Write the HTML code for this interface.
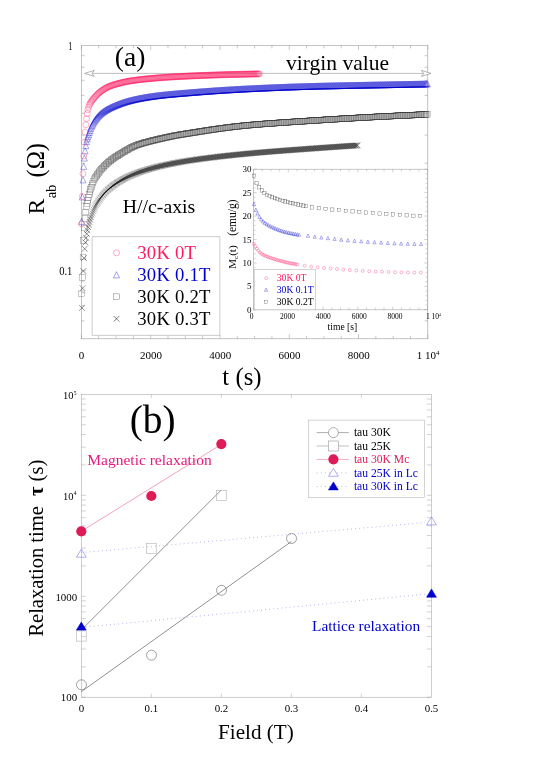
<!DOCTYPE html><html><head><meta charset="utf-8"><title>figure</title><style>html,body{margin:0;padding:0;background:#fff}body{width:545px;height:772px;position:relative;overflow:hidden;font-family:"Liberation Serif",serif}</style></head><body><svg width="545" height="772" viewBox="0 0 545 772" style="position:absolute;left:0;top:0;will-change:transform;font-family:'Liberation Serif',serif">
<rect width="545" height="772" fill="#fff"/>
<defs><circle id="mc" r="3.0" fill="none" stroke="#FF1A60" stroke-width="0.32"/><path id="mt" d="M0,-3.1L3,3.1L-3,3.1Z" fill="none" stroke="#0000CD" stroke-width="0.32"/><rect id="ms" x="-2.9" y="-2.9" width="5.8" height="5.8" fill="none" stroke="#333" stroke-width="0.21"/><path id="mx" d="M-2.85,-2.85L2.85,2.85M-2.85,2.85L2.85,-2.85" fill="none" stroke="#000" stroke-width="0.34"/><circle id="mcb" r="3.0" fill="none" stroke="#FF1A60" stroke-width="0.34"/><path id="mtb" d="M0,-3.1L3,3.1L-3,3.1Z" fill="none" stroke="#0000CD" stroke-width="0.34"/><rect id="msb" x="-2.9" y="-2.9" width="5.8" height="5.8" fill="none" stroke="#333" stroke-width="0.26"/><path id="mxb" d="M-2.85,-2.85L2.85,2.85M-2.85,2.85L2.85,-2.85" fill="none" stroke="#000" stroke-width="0.42"/><circle id="mcl" r="3.0" fill="none" stroke="#FF1A60" stroke-width="0.37"/><path id="mtl" d="M0,-3.1L3,3.1L-3,3.1Z" fill="none" stroke="#0000CD" stroke-width="0.37"/><rect id="msl" x="-2.9" y="-2.9" width="5.8" height="5.8" fill="none" stroke="#333" stroke-width="0.33"/><path id="mxl" d="M-2.85,-2.85L2.85,2.85M-2.85,2.85L2.85,-2.85" fill="none" stroke="#000" stroke-width="0.5"/><circle id="ic" r="1.5" fill="none" stroke="#FF1A60" stroke-width="0.32"/><path id="it" d="M0,-1.9L1.6,1.4L-1.6,1.4Z" fill="none" stroke="#0000CD" stroke-width="0.32"/><rect id="is" x="-1.65" y="-1.65" width="3.3" height="3.3" fill="none" stroke="#333" stroke-width="0.3"/></defs>
<rect x="81.4" y="45.4" width="346.4" height="293.4" fill="none" stroke="#9c9c9c" stroke-width="0.6"/>
<path d="M81.4,338.8L81.4,334.3M81.4,45.4L81.4,49.9M98.72,338.8L98.72,335.8M98.72,45.4L98.72,48.4M116.04,338.8L116.04,335.8M116.04,45.4L116.04,48.4M133.36,338.8L133.36,335.8M133.36,45.4L133.36,48.4M150.68,338.8L150.68,334.3M150.68,45.4L150.68,49.9M168,338.8L168,335.8M168,45.4L168,48.4M185.32,338.8L185.32,335.8M185.32,45.4L185.32,48.4M202.64,338.8L202.64,335.8M202.64,45.4L202.64,48.4M219.96,338.8L219.96,334.3M219.96,45.4L219.96,49.9M237.28,338.8L237.28,335.8M237.28,45.4L237.28,48.4M254.6,338.8L254.6,335.8M254.6,45.4L254.6,48.4M271.92,338.8L271.92,335.8M271.92,45.4L271.92,48.4M289.24,338.8L289.24,334.3M289.24,45.4L289.24,49.9M306.56,338.8L306.56,335.8M306.56,45.4L306.56,48.4M323.88,338.8L323.88,335.8M323.88,45.4L323.88,48.4M341.2,338.8L341.2,335.8M341.2,45.4L341.2,48.4M358.52,338.8L358.52,334.3M358.52,45.4L358.52,49.9M375.84,338.8L375.84,335.8M375.84,45.4L375.84,48.4M393.16,338.8L393.16,335.8M393.16,45.4L393.16,48.4M410.48,338.8L410.48,335.8M410.48,45.4L410.48,48.4M427.8,338.8L427.8,334.3M427.8,45.4L427.8,49.9M81.4,55.71L84.6,55.71M427.8,55.71L424.6,55.71M81.4,67.24L84.6,67.24M427.8,67.24L424.6,67.24M81.4,80.31L84.6,80.31M427.8,80.31L424.6,80.31M81.4,95.4L84.6,95.4M427.8,95.4L424.6,95.4M81.4,113.25L84.6,113.25M427.8,113.25L424.6,113.25M81.4,135.1L84.6,135.1M427.8,135.1L424.6,135.1M81.4,163.26L84.6,163.26M427.8,163.26L424.6,163.26M81.4,202.95L84.6,202.95M427.8,202.95L424.6,202.95M81.4,270.8L85.9,270.8M427.8,270.8L423.3,270.8M81.4,281.11L84.6,281.11M427.8,281.11L424.6,281.11M81.4,292.64L84.6,292.64M427.8,292.64L424.6,292.64M81.4,305.71L84.6,305.71M427.8,305.71L424.6,305.71M81.4,320.8L84.6,320.8M427.8,320.8L424.6,320.8" fill="none" stroke="#a4a4a4" stroke-width="0.6"/>
<path d="M89.4,73.4L427.8,73.4" stroke="#8a8a8a" stroke-width="0.55" fill="none"/>
<path d="M84.7,73.4L94.3,70.4L92,73.4L94.3,76.4Z" fill="#fff" stroke="#777" stroke-width="0.55"/>
<path d="M431,73.4L421.4,70.4L423.7,73.4L421.4,76.4Z" fill="#fff" stroke="#777" stroke-width="0.55"/>
<clipPath id="ca"><rect x="77.4" y="45.4" width="354.4" height="293.4"/></clipPath>
<g clip-path="url(#ca)">
<use href="#mxb" x="81.9" y="307.9"/><use href="#mxb" x="82.6" y="288.2"/><use href="#mxb" x="83.3" y="271"/><use href="#mxb" x="84" y="258"/><use href="#mxb" x="84.7" y="248.8"/><use href="#mxb" x="85.4" y="242.5"/><use href="#mxb" x="86.1" y="237.81"/><use href="#mxb" x="86.8" y="233.86"/><use href="#mxb" x="87.5" y="230.38"/><use href="#mxb" x="88.2" y="227.27"/><use href="#mxb" x="88.9" y="224.46"/><use href="#mxb" x="89.6" y="221.88"/><use href="#mxb" x="90.3" y="219.5"/><use href="#mxb" x="91" y="217.27"/><use href="#mx" x="91.7" y="215.17"/><use href="#mx" x="92.4" y="213.21"/><use href="#mx" x="93.1" y="211.37"/><use href="#mx" x="93.8" y="209.66"/><use href="#mx" x="94.5" y="208.07"/><use href="#mx" x="95.2" y="206.6"/><use href="#mx" x="95.9" y="205.23"/><use href="#mx" x="96.6" y="203.95"/><use href="#mx" x="97.3" y="202.74"/><use href="#mx" x="98" y="201.6"/><use href="#mx" x="98.7" y="200.51"/><use href="#mx" x="99.4" y="199.48"/><use href="#mx" x="100.1" y="198.5"/><use href="#mx" x="100.8" y="197.56"/><use href="#mx" x="101.5" y="196.66"/><use href="#mx" x="102.2" y="195.8"/><use href="#mx" x="102.9" y="194.97"/><use href="#mx" x="103.6" y="194.16"/><use href="#mx" x="104.3" y="193.4"/><use href="#mx" x="105" y="192.65"/><use href="#mx" x="105.7" y="191.94"/><use href="#mx" x="106.4" y="191.25"/><use href="#mx" x="107.1" y="190.58"/><use href="#mx" x="107.8" y="189.93"/><use href="#mx" x="108.5" y="189.31"/><use href="#mx" x="109.2" y="188.7"/><use href="#mx" x="109.9" y="188.11"/><use href="#mx" x="110.6" y="187.53"/><use href="#mx" x="111.3" y="186.97"/><use href="#mx" x="112" y="186.43"/><use href="#mx" x="112.7" y="185.9"/><use href="#mx" x="113.4" y="185.38"/><use href="#mx" x="114.1" y="184.87"/><use href="#mx" x="114.8" y="184.38"/><use href="#mx" x="115.5" y="183.89"/><use href="#mx" x="116.2" y="183.42"/><use href="#mx" x="116.9" y="182.96"/><use href="#mx" x="117.6" y="182.5"/><use href="#mx" x="118.3" y="182.06"/><use href="#mx" x="119" y="181.62"/><use href="#mx" x="119.7" y="181.2"/><use href="#mx" x="120.4" y="180.78"/><use href="#mx" x="121.1" y="180.37"/><use href="#mx" x="121.8" y="179.97"/><use href="#mx" x="122.5" y="179.58"/><use href="#mx" x="123.2" y="179.2"/><use href="#mx" x="123.9" y="178.83"/><use href="#mx" x="124.6" y="178.46"/><use href="#mx" x="125.3" y="178.1"/><use href="#mx" x="126" y="177.75"/><use href="#mx" x="126.7" y="177.4"/><use href="#mx" x="127.4" y="177.06"/><use href="#mx" x="128.1" y="176.73"/><use href="#mx" x="128.8" y="176.41"/><use href="#mx" x="129.5" y="176.09"/><use href="#mx" x="130.2" y="175.78"/><use href="#mx" x="130.9" y="175.47"/><use href="#mx" x="131.6" y="175.17"/><use href="#mx" x="132.3" y="174.87"/><use href="#mx" x="133" y="174.59"/><use href="#mx" x="133.7" y="174.3"/><use href="#mx" x="134.4" y="174.02"/><use href="#mx" x="135.1" y="173.75"/><use href="#mx" x="135.8" y="173.48"/><use href="#mx" x="136.5" y="173.21"/><use href="#mx" x="137.2" y="172.95"/><use href="#mx" x="137.9" y="172.69"/><use href="#mx" x="138.6" y="172.44"/><use href="#mx" x="139.3" y="172.19"/><use href="#mx" x="140" y="171.95"/><use href="#mx" x="140.7" y="171.7"/><use href="#mx" x="141.4" y="171.47"/><use href="#mx" x="142.1" y="171.23"/><use href="#mx" x="142.8" y="171"/><use href="#mx" x="143.5" y="170.77"/><use href="#mx" x="144.2" y="170.55"/><use href="#mx" x="144.9" y="170.33"/><use href="#mx" x="145.6" y="170.11"/><use href="#mx" x="146.3" y="169.9"/><use href="#mx" x="147" y="169.68"/><use href="#mx" x="147.7" y="169.47"/><use href="#mx" x="148.4" y="169.27"/><use href="#mx" x="149.1" y="169.07"/><use href="#mx" x="149.8" y="168.86"/><use href="#mx" x="150.5" y="168.67"/><use href="#mx" x="151.2" y="168.47"/><use href="#mx" x="151.9" y="168.28"/><use href="#mx" x="152.6" y="168.09"/><use href="#mx" x="153.3" y="167.9"/><use href="#mx" x="154" y="167.71"/><use href="#mx" x="154.7" y="167.53"/><use href="#mx" x="155.4" y="167.35"/><use href="#mx" x="156.1" y="167.17"/><use href="#mx" x="156.8" y="167"/><use href="#mx" x="157.5" y="166.82"/><use href="#mx" x="158.2" y="166.65"/><use href="#mx" x="158.9" y="166.48"/><use href="#mx" x="159.6" y="166.31"/><use href="#mx" x="160.3" y="166.14"/><use href="#mx" x="161" y="165.98"/><use href="#mx" x="161.7" y="165.82"/><use href="#mx" x="162.4" y="165.66"/><use href="#mx" x="163.1" y="165.5"/><use href="#mx" x="163.8" y="165.34"/><use href="#mx" x="164.5" y="165.19"/><use href="#mx" x="165.2" y="165.04"/><use href="#mx" x="165.9" y="164.88"/><use href="#mx" x="166.6" y="164.74"/><use href="#mx" x="167.3" y="164.59"/><use href="#mx" x="168" y="164.44"/><use href="#mx" x="168.7" y="164.3"/><use href="#mx" x="169.4" y="164.15"/><use href="#mx" x="170.1" y="164.01"/><use href="#mx" x="170.8" y="163.87"/><use href="#mx" x="171.5" y="163.73"/><use href="#mx" x="172.2" y="163.6"/><use href="#mx" x="172.9" y="163.46"/><use href="#mx" x="173.6" y="163.32"/><use href="#mx" x="174.3" y="163.19"/><use href="#mx" x="175" y="163.06"/><use href="#mx" x="175.7" y="162.93"/><use href="#mx" x="176.4" y="162.8"/><use href="#mx" x="177.1" y="162.67"/><use href="#mx" x="177.8" y="162.54"/><use href="#mx" x="178.5" y="162.42"/><use href="#mx" x="179.2" y="162.29"/><use href="#mx" x="179.9" y="162.17"/><use href="#mx" x="180.6" y="162.05"/><use href="#mx" x="181.3" y="161.93"/><use href="#mx" x="182" y="161.81"/><use href="#mx" x="182.7" y="161.69"/><use href="#mx" x="183.4" y="161.57"/><use href="#mx" x="184.1" y="161.45"/><use href="#mx" x="184.8" y="161.33"/><use href="#mx" x="185.5" y="161.22"/><use href="#mx" x="186.2" y="161.1"/><use href="#mx" x="186.9" y="160.99"/><use href="#mx" x="187.6" y="160.88"/><use href="#mx" x="188.3" y="160.77"/><use href="#mx" x="189" y="160.66"/><use href="#mx" x="189.7" y="160.55"/><use href="#mx" x="190.4" y="160.44"/><use href="#mx" x="191.1" y="160.33"/><use href="#mx" x="191.8" y="160.22"/><use href="#mx" x="192.5" y="160.12"/><use href="#mx" x="193.2" y="160.01"/><use href="#mx" x="193.9" y="159.91"/><use href="#mx" x="194.6" y="159.8"/><use href="#mx" x="195.3" y="159.7"/><use href="#mx" x="196" y="159.6"/><use href="#mx" x="196.7" y="159.5"/><use href="#mx" x="197.4" y="159.4"/><use href="#mx" x="198.1" y="159.3"/><use href="#mx" x="198.8" y="159.2"/><use href="#mx" x="199.5" y="159.1"/><use href="#mx" x="200.2" y="159.01"/><use href="#mx" x="200.9" y="158.91"/><use href="#mx" x="201.6" y="158.81"/><use href="#mx" x="202.3" y="158.72"/><use href="#mx" x="203" y="158.62"/><use href="#mx" x="203.7" y="158.53"/><use href="#mx" x="204.4" y="158.44"/><use href="#mx" x="205.1" y="158.35"/><use href="#mx" x="205.8" y="158.25"/><use href="#mx" x="206.5" y="158.16"/><use href="#mx" x="207.2" y="158.07"/><use href="#mx" x="207.9" y="157.98"/><use href="#mx" x="208.6" y="157.89"/><use href="#mx" x="209.3" y="157.81"/><use href="#mx" x="210" y="157.72"/><use href="#mx" x="210.7" y="157.63"/><use href="#mx" x="211.4" y="157.54"/><use href="#mx" x="212.1" y="157.46"/><use href="#mx" x="212.8" y="157.37"/><use href="#mx" x="213.5" y="157.29"/><use href="#mx" x="214.2" y="157.2"/><use href="#mx" x="214.9" y="157.12"/><use href="#mx" x="215.6" y="157.04"/><use href="#mx" x="216.3" y="156.95"/><use href="#mx" x="217" y="156.87"/><use href="#mx" x="217.7" y="156.79"/><use href="#mx" x="218.4" y="156.71"/><use href="#mx" x="219.1" y="156.63"/><use href="#mx" x="219.8" y="156.54"/><use href="#mx" x="220.5" y="156.46"/><use href="#mx" x="221.2" y="156.38"/><use href="#mx" x="221.9" y="156.31"/><use href="#mx" x="222.6" y="156.23"/><use href="#mx" x="223.3" y="156.15"/><use href="#mx" x="224" y="156.07"/><use href="#mx" x="224.7" y="155.99"/><use href="#mx" x="225.4" y="155.92"/><use href="#mx" x="226.1" y="155.84"/><use href="#mx" x="226.8" y="155.76"/><use href="#mx" x="227.5" y="155.69"/><use href="#mx" x="228.2" y="155.61"/><use href="#mx" x="228.9" y="155.54"/><use href="#mx" x="229.6" y="155.46"/><use href="#mx" x="230.3" y="155.39"/><use href="#mx" x="231" y="155.31"/><use href="#mx" x="231.7" y="155.24"/><use href="#mx" x="232.4" y="155.17"/><use href="#mx" x="233.1" y="155.09"/><use href="#mx" x="233.8" y="155.02"/><use href="#mx" x="234.5" y="154.95"/><use href="#mx" x="235.2" y="154.88"/><use href="#mx" x="235.9" y="154.8"/><use href="#mx" x="236.6" y="154.73"/><use href="#mx" x="237.3" y="154.66"/><use href="#mx" x="238" y="154.59"/><use href="#mx" x="238.7" y="154.52"/><use href="#mx" x="239.4" y="154.45"/><use href="#mx" x="240.1" y="154.38"/><use href="#mx" x="240.8" y="154.31"/><use href="#mx" x="241.5" y="154.24"/><use href="#mx" x="242.2" y="154.17"/><use href="#mx" x="242.9" y="154.1"/><use href="#mx" x="243.6" y="154.04"/><use href="#mx" x="244.3" y="153.97"/><use href="#mx" x="245" y="153.9"/><use href="#mx" x="245.7" y="153.83"/><use href="#mx" x="246.4" y="153.77"/><use href="#mx" x="247.1" y="153.7"/><use href="#mx" x="247.8" y="153.63"/><use href="#mx" x="248.5" y="153.57"/><use href="#mx" x="249.2" y="153.5"/><use href="#mx" x="249.9" y="153.44"/><use href="#mx" x="250.6" y="153.37"/><use href="#mx" x="251.3" y="153.31"/><use href="#mx" x="252" y="153.24"/><use href="#mx" x="252.7" y="153.18"/><use href="#mx" x="253.4" y="153.12"/><use href="#mx" x="254.1" y="153.06"/><use href="#mx" x="254.8" y="152.99"/><use href="#mx" x="255.5" y="152.93"/><use href="#mx" x="256.2" y="152.87"/><use href="#mx" x="256.9" y="152.81"/><use href="#mx" x="257.6" y="152.75"/><use href="#mx" x="258.3" y="152.69"/><use href="#mx" x="259" y="152.63"/><use href="#mx" x="259.7" y="152.56"/><use href="#mx" x="260.4" y="152.5"/><use href="#mx" x="261.1" y="152.45"/><use href="#mx" x="261.8" y="152.39"/><use href="#mx" x="262.5" y="152.33"/><use href="#mx" x="263.2" y="152.27"/><use href="#mx" x="263.9" y="152.21"/><use href="#mx" x="264.6" y="152.15"/><use href="#mx" x="265.3" y="152.09"/><use href="#mx" x="266" y="152.04"/><use href="#mx" x="266.7" y="151.98"/><use href="#mx" x="267.4" y="151.92"/><use href="#mx" x="268.1" y="151.86"/><use href="#mx" x="268.8" y="151.81"/><use href="#mx" x="269.5" y="151.75"/><use href="#mx" x="270.2" y="151.69"/><use href="#mx" x="270.9" y="151.64"/><use href="#mx" x="271.6" y="151.58"/><use href="#mx" x="272.3" y="151.52"/><use href="#mx" x="273" y="151.47"/><use href="#mx" x="273.7" y="151.41"/><use href="#mx" x="274.4" y="151.36"/><use href="#mx" x="275.1" y="151.3"/><use href="#mx" x="275.8" y="151.25"/><use href="#mx" x="276.5" y="151.19"/><use href="#mx" x="277.2" y="151.14"/><use href="#mx" x="277.9" y="151.08"/><use href="#mx" x="278.6" y="151.03"/><use href="#mx" x="279.3" y="150.97"/><use href="#mx" x="280" y="150.92"/><use href="#mx" x="280.7" y="150.87"/><use href="#mx" x="281.4" y="150.81"/><use href="#mx" x="282.1" y="150.76"/><use href="#mx" x="282.8" y="150.71"/><use href="#mx" x="283.5" y="150.65"/><use href="#mx" x="284.2" y="150.6"/><use href="#mx" x="284.9" y="150.55"/><use href="#mx" x="285.6" y="150.49"/><use href="#mx" x="286.3" y="150.44"/><use href="#mx" x="287" y="150.39"/><use href="#mx" x="287.7" y="150.33"/><use href="#mx" x="288.4" y="150.28"/><use href="#mx" x="289.1" y="150.23"/><use href="#mx" x="289.8" y="150.18"/><use href="#mx" x="290.5" y="150.13"/><use href="#mx" x="291.2" y="150.07"/><use href="#mx" x="291.9" y="150.02"/><use href="#mx" x="292.6" y="149.97"/><use href="#mx" x="293.3" y="149.92"/><use href="#mx" x="294" y="149.87"/><use href="#mx" x="294.7" y="149.81"/><use href="#mx" x="295.4" y="149.76"/><use href="#mx" x="296.1" y="149.71"/><use href="#mx" x="296.8" y="149.66"/><use href="#mx" x="297.5" y="149.61"/><use href="#mx" x="298.2" y="149.56"/><use href="#mx" x="298.9" y="149.51"/><use href="#mx" x="299.6" y="149.45"/><use href="#mx" x="300.3" y="149.4"/><use href="#mx" x="301" y="149.35"/><use href="#mx" x="301.7" y="149.3"/><use href="#mx" x="302.4" y="149.25"/><use href="#mx" x="303.1" y="149.2"/><use href="#mx" x="303.8" y="149.15"/><use href="#mx" x="304.5" y="149.1"/><use href="#mx" x="305.2" y="149.05"/><use href="#mx" x="305.9" y="149"/><use href="#mx" x="306.6" y="148.95"/><use href="#mx" x="307.3" y="148.89"/><use href="#mx" x="308" y="148.84"/><use href="#mx" x="308.7" y="148.79"/><use href="#mx" x="309.4" y="148.74"/><use href="#mx" x="310.1" y="148.69"/><use href="#mx" x="310.8" y="148.64"/><use href="#mx" x="311.5" y="148.59"/><use href="#mx" x="312.2" y="148.54"/><use href="#mx" x="312.9" y="148.49"/><use href="#mx" x="313.6" y="148.44"/><use href="#mx" x="314.3" y="148.39"/><use href="#mx" x="315" y="148.34"/><use href="#mx" x="315.7" y="148.29"/><use href="#mx" x="316.4" y="148.24"/><use href="#mx" x="317.1" y="148.19"/><use href="#mx" x="317.8" y="148.14"/><use href="#mx" x="318.5" y="148.09"/><use href="#mx" x="319.2" y="148.04"/><use href="#mx" x="319.9" y="147.99"/><use href="#mx" x="320.6" y="147.94"/><use href="#mx" x="321.3" y="147.89"/><use href="#mx" x="322" y="147.84"/><use href="#mx" x="322.7" y="147.79"/><use href="#mx" x="323.4" y="147.75"/><use href="#mx" x="324.1" y="147.7"/><use href="#mx" x="324.8" y="147.65"/><use href="#mx" x="325.5" y="147.6"/><use href="#mx" x="326.2" y="147.55"/><use href="#mx" x="326.9" y="147.5"/><use href="#mx" x="327.6" y="147.45"/><use href="#mx" x="328.3" y="147.4"/><use href="#mx" x="329" y="147.35"/><use href="#mx" x="329.7" y="147.3"/><use href="#mx" x="330.4" y="147.26"/><use href="#mx" x="331.1" y="147.21"/><use href="#mx" x="331.8" y="147.16"/><use href="#mx" x="332.5" y="147.11"/><use href="#mx" x="333.2" y="147.06"/><use href="#mx" x="333.9" y="147.01"/><use href="#mx" x="334.6" y="146.97"/><use href="#mx" x="335.3" y="146.92"/><use href="#mx" x="336" y="146.87"/><use href="#mx" x="336.7" y="146.82"/><use href="#mx" x="337.4" y="146.77"/><use href="#mx" x="338.1" y="146.73"/><use href="#mx" x="338.8" y="146.68"/><use href="#mx" x="339.5" y="146.63"/><use href="#mx" x="340.2" y="146.58"/><use href="#mx" x="340.9" y="146.54"/><use href="#mx" x="341.6" y="146.49"/><use href="#mx" x="342.3" y="146.44"/><use href="#mx" x="343" y="146.39"/><use href="#mx" x="343.7" y="146.35"/><use href="#mx" x="344.4" y="146.3"/><use href="#mx" x="345.1" y="146.25"/><use href="#mx" x="345.8" y="146.2"/><use href="#mx" x="346.5" y="146.16"/><use href="#mx" x="347.2" y="146.11"/><use href="#mx" x="347.9" y="146.06"/><use href="#mx" x="348.6" y="146.02"/><use href="#mx" x="349.3" y="145.97"/><use href="#mx" x="350" y="145.92"/><use href="#mx" x="350.7" y="145.88"/><use href="#mx" x="351.4" y="145.83"/><use href="#mx" x="352.1" y="145.79"/><use href="#mx" x="352.8" y="145.74"/><use href="#mx" x="353.5" y="145.69"/><use href="#mx" x="354.2" y="145.65"/><use href="#mx" x="354.9" y="145.6"/><use href="#mx" x="355.6" y="145.56"/><use href="#mx" x="356.3" y="145.51"/><use href="#mx" x="357" y="145.47"/><use href="#mx" x="357.7" y="145.42"/>
<use href="#msb" x="81.6" y="293.9"/><use href="#msb" x="82.3" y="277.3"/><use href="#msb" x="83" y="257"/><use href="#msb" x="83.7" y="240.5"/><use href="#msb" x="84.4" y="228"/><use href="#msb" x="85.1" y="218.5"/><use href="#msb" x="85.8" y="212"/><use href="#msb" x="86.5" y="206.5"/><use href="#msb" x="87.2" y="203.43"/><use href="#msb" x="87.9" y="200.64"/><use href="#msb" x="88.6" y="197.57"/><use href="#msb" x="89.3" y="194.58"/><use href="#msb" x="90" y="191.86"/><use href="#msb" x="90.7" y="189.4"/><use href="#msb" x="91.4" y="187.08"/><use href="#ms" x="92.1" y="184.94"/><use href="#ms" x="92.8" y="183.01"/><use href="#ms" x="93.5" y="181.32"/><use href="#ms" x="94.2" y="179.85"/><use href="#ms" x="94.9" y="178.52"/><use href="#ms" x="95.6" y="177.31"/><use href="#ms" x="96.3" y="176.2"/><use href="#ms" x="97" y="175.16"/><use href="#ms" x="97.7" y="174.18"/><use href="#ms" x="98.4" y="173.23"/><use href="#ms" x="99.1" y="172.33"/><use href="#ms" x="99.8" y="171.44"/><use href="#ms" x="100.5" y="170.58"/><use href="#ms" x="101.2" y="169.74"/><use href="#ms" x="101.9" y="168.93"/><use href="#ms" x="102.6" y="168.14"/><use href="#ms" x="103.3" y="167.39"/><use href="#ms" x="104" y="166.66"/><use href="#ms" x="104.7" y="165.95"/><use href="#ms" x="105.4" y="165.26"/><use href="#ms" x="106.1" y="164.59"/><use href="#ms" x="106.8" y="163.95"/><use href="#ms" x="107.5" y="163.32"/><use href="#ms" x="108.2" y="162.7"/><use href="#ms" x="108.9" y="162.1"/><use href="#ms" x="109.6" y="161.52"/><use href="#ms" x="110.3" y="160.95"/><use href="#ms" x="111" y="160.4"/><use href="#ms" x="111.7" y="159.86"/><use href="#ms" x="112.4" y="159.34"/><use href="#ms" x="113.1" y="158.83"/><use href="#ms" x="113.8" y="158.33"/><use href="#ms" x="114.5" y="157.85"/><use href="#ms" x="115.2" y="157.37"/><use href="#ms" x="115.9" y="156.9"/><use href="#ms" x="116.6" y="156.45"/><use href="#ms" x="117.3" y="156"/><use href="#ms" x="118" y="155.55"/><use href="#ms" x="118.7" y="155.11"/><use href="#ms" x="119.4" y="154.68"/><use href="#ms" x="120.1" y="154.25"/><use href="#ms" x="120.8" y="153.82"/><use href="#ms" x="121.5" y="153.4"/><use href="#ms" x="122.2" y="152.98"/><use href="#ms" x="122.9" y="152.55"/><use href="#ms" x="123.6" y="152.12"/><use href="#ms" x="124.3" y="151.7"/><use href="#ms" x="125" y="151.27"/><use href="#ms" x="125.7" y="150.85"/><use href="#ms" x="126.4" y="150.43"/><use href="#ms" x="127.1" y="150.02"/><use href="#ms" x="127.8" y="149.62"/><use href="#ms" x="128.5" y="149.22"/><use href="#ms" x="129.2" y="148.83"/><use href="#ms" x="129.9" y="148.45"/><use href="#ms" x="130.6" y="148.08"/><use href="#ms" x="131.3" y="147.72"/><use href="#ms" x="132" y="147.37"/><use href="#ms" x="132.7" y="147.03"/><use href="#ms" x="133.4" y="146.7"/><use href="#ms" x="134.1" y="146.39"/><use href="#ms" x="134.8" y="146.09"/><use href="#ms" x="135.5" y="145.8"/><use href="#ms" x="136.2" y="145.52"/><use href="#ms" x="136.9" y="145.26"/><use href="#ms" x="137.6" y="145"/><use href="#ms" x="138.3" y="144.75"/><use href="#ms" x="139" y="144.51"/><use href="#ms" x="139.7" y="144.27"/><use href="#ms" x="140.4" y="144.04"/><use href="#ms" x="141.1" y="143.82"/><use href="#ms" x="141.8" y="143.6"/><use href="#ms" x="142.5" y="143.39"/><use href="#ms" x="143.2" y="143.18"/><use href="#ms" x="143.9" y="142.98"/><use href="#ms" x="144.6" y="142.78"/><use href="#ms" x="145.3" y="142.58"/><use href="#ms" x="146" y="142.39"/><use href="#ms" x="146.7" y="142.2"/><use href="#ms" x="147.4" y="142.02"/><use href="#ms" x="148.1" y="141.83"/><use href="#ms" x="148.8" y="141.65"/><use href="#ms" x="149.5" y="141.47"/><use href="#ms" x="150.2" y="141.3"/><use href="#ms" x="150.9" y="141.12"/><use href="#ms" x="151.6" y="140.95"/><use href="#ms" x="152.3" y="140.77"/><use href="#ms" x="153" y="140.6"/><use href="#ms" x="153.7" y="140.43"/><use href="#ms" x="154.4" y="140.26"/><use href="#ms" x="155.1" y="140.09"/><use href="#ms" x="155.8" y="139.93"/><use href="#ms" x="156.5" y="139.76"/><use href="#ms" x="157.2" y="139.59"/><use href="#ms" x="157.9" y="139.42"/><use href="#ms" x="158.6" y="139.26"/><use href="#ms" x="159.3" y="139.09"/><use href="#ms" x="160" y="138.93"/><use href="#ms" x="160.7" y="138.76"/><use href="#ms" x="161.4" y="138.6"/><use href="#ms" x="162.1" y="138.44"/><use href="#ms" x="162.8" y="138.28"/><use href="#ms" x="163.5" y="138.12"/><use href="#ms" x="164.2" y="137.96"/><use href="#ms" x="164.9" y="137.81"/><use href="#ms" x="165.6" y="137.65"/><use href="#ms" x="166.3" y="137.5"/><use href="#ms" x="167" y="137.35"/><use href="#ms" x="167.7" y="137.2"/><use href="#ms" x="168.4" y="137.05"/><use href="#ms" x="169.1" y="136.9"/><use href="#ms" x="169.8" y="136.75"/><use href="#ms" x="170.5" y="136.61"/><use href="#ms" x="171.2" y="136.47"/><use href="#ms" x="171.9" y="136.32"/><use href="#ms" x="172.6" y="136.18"/><use href="#ms" x="173.3" y="136.05"/><use href="#ms" x="174" y="135.91"/><use href="#ms" x="174.7" y="135.77"/><use href="#ms" x="175.4" y="135.64"/><use href="#ms" x="176.1" y="135.51"/><use href="#ms" x="176.8" y="135.38"/><use href="#ms" x="177.5" y="135.25"/><use href="#ms" x="178.2" y="135.12"/><use href="#ms" x="178.9" y="134.99"/><use href="#ms" x="179.6" y="134.87"/><use href="#ms" x="180.3" y="134.75"/><use href="#ms" x="181" y="134.63"/><use href="#ms" x="181.7" y="134.51"/><use href="#ms" x="182.4" y="134.4"/><use href="#ms" x="183.1" y="134.28"/><use href="#ms" x="183.8" y="134.17"/><use href="#ms" x="184.5" y="134.06"/><use href="#ms" x="185.2" y="133.95"/><use href="#ms" x="185.9" y="133.84"/><use href="#ms" x="186.6" y="133.73"/><use href="#ms" x="187.3" y="133.62"/><use href="#ms" x="188" y="133.51"/><use href="#ms" x="188.7" y="133.41"/><use href="#ms" x="189.4" y="133.3"/><use href="#ms" x="190.1" y="133.18"/><use href="#ms" x="190.8" y="133.07"/><use href="#ms" x="191.5" y="132.96"/><use href="#ms" x="192.2" y="132.85"/><use href="#ms" x="192.9" y="132.74"/><use href="#ms" x="193.6" y="132.62"/><use href="#ms" x="194.3" y="132.51"/><use href="#ms" x="195" y="132.4"/><use href="#ms" x="195.7" y="132.29"/><use href="#ms" x="196.4" y="132.17"/><use href="#ms" x="197.1" y="132.06"/><use href="#ms" x="197.8" y="131.95"/><use href="#ms" x="198.5" y="131.84"/><use href="#ms" x="199.2" y="131.73"/><use href="#ms" x="199.9" y="131.61"/><use href="#ms" x="200.6" y="131.5"/><use href="#ms" x="201.3" y="131.39"/><use href="#ms" x="202" y="131.28"/><use href="#ms" x="202.7" y="131.17"/><use href="#ms" x="203.4" y="131.06"/><use href="#ms" x="204.1" y="130.95"/><use href="#ms" x="204.8" y="130.84"/><use href="#ms" x="205.5" y="130.73"/><use href="#ms" x="206.2" y="130.62"/><use href="#ms" x="206.9" y="130.51"/><use href="#ms" x="207.6" y="130.41"/><use href="#ms" x="208.3" y="130.3"/><use href="#ms" x="209" y="130.19"/><use href="#ms" x="209.7" y="130.08"/><use href="#ms" x="210.4" y="129.98"/><use href="#ms" x="211.1" y="129.87"/><use href="#ms" x="211.8" y="129.77"/><use href="#ms" x="212.5" y="129.66"/><use href="#ms" x="213.2" y="129.56"/><use href="#ms" x="213.9" y="129.46"/><use href="#ms" x="214.6" y="129.35"/><use href="#ms" x="215.3" y="129.25"/><use href="#ms" x="216" y="129.15"/><use href="#ms" x="216.7" y="129.05"/><use href="#ms" x="217.4" y="128.95"/><use href="#ms" x="218.1" y="128.85"/><use href="#ms" x="218.8" y="128.75"/><use href="#ms" x="219.5" y="128.65"/><use href="#ms" x="220.2" y="128.56"/><use href="#ms" x="220.9" y="128.46"/><use href="#ms" x="221.6" y="128.36"/><use href="#ms" x="222.3" y="128.27"/><use href="#ms" x="223" y="128.17"/><use href="#ms" x="223.7" y="128.08"/><use href="#ms" x="224.4" y="127.99"/><use href="#ms" x="225.1" y="127.89"/><use href="#ms" x="225.8" y="127.8"/><use href="#ms" x="226.5" y="127.71"/><use href="#ms" x="227.2" y="127.62"/><use href="#ms" x="227.9" y="127.53"/><use href="#ms" x="228.6" y="127.44"/><use href="#ms" x="229.3" y="127.36"/><use href="#ms" x="230" y="127.27"/><use href="#ms" x="230.7" y="127.18"/><use href="#ms" x="231.4" y="127.1"/><use href="#ms" x="232.1" y="127.01"/><use href="#ms" x="232.8" y="126.93"/><use href="#ms" x="233.5" y="126.85"/><use href="#ms" x="234.2" y="126.76"/><use href="#ms" x="234.9" y="126.68"/><use href="#ms" x="235.6" y="126.6"/><use href="#ms" x="236.3" y="126.52"/><use href="#ms" x="237" y="126.44"/><use href="#ms" x="237.7" y="126.36"/><use href="#ms" x="238.4" y="126.29"/><use href="#ms" x="239.1" y="126.21"/><use href="#ms" x="239.8" y="126.14"/><use href="#ms" x="240.5" y="126.06"/><use href="#ms" x="241.2" y="125.99"/><use href="#ms" x="241.9" y="125.91"/><use href="#ms" x="242.6" y="125.84"/><use href="#ms" x="243.3" y="125.77"/><use href="#ms" x="244" y="125.7"/><use href="#ms" x="244.7" y="125.63"/><use href="#ms" x="245.4" y="125.56"/><use href="#ms" x="246.1" y="125.49"/><use href="#ms" x="246.8" y="125.43"/><use href="#ms" x="247.5" y="125.36"/><use href="#ms" x="248.2" y="125.29"/><use href="#ms" x="248.9" y="125.23"/><use href="#ms" x="249.6" y="125.16"/><use href="#ms" x="250.3" y="125.1"/><use href="#ms" x="251" y="125.03"/><use href="#ms" x="251.7" y="124.97"/><use href="#ms" x="252.4" y="124.91"/><use href="#ms" x="253.1" y="124.85"/><use href="#ms" x="253.8" y="124.79"/><use href="#ms" x="254.5" y="124.73"/><use href="#ms" x="255.2" y="124.67"/><use href="#ms" x="255.9" y="124.61"/><use href="#ms" x="256.6" y="124.55"/><use href="#ms" x="257.3" y="124.49"/><use href="#ms" x="258" y="124.43"/><use href="#ms" x="258.7" y="124.37"/><use href="#ms" x="259.4" y="124.32"/><use href="#ms" x="260.1" y="124.26"/><use href="#ms" x="260.8" y="124.2"/><use href="#ms" x="261.5" y="124.15"/><use href="#ms" x="262.2" y="124.09"/><use href="#ms" x="262.9" y="124.04"/><use href="#ms" x="263.6" y="123.98"/><use href="#ms" x="264.3" y="123.93"/><use href="#ms" x="265" y="123.87"/><use href="#ms" x="265.7" y="123.82"/><use href="#ms" x="266.4" y="123.77"/><use href="#ms" x="267.1" y="123.71"/><use href="#ms" x="267.8" y="123.66"/><use href="#ms" x="268.5" y="123.61"/><use href="#ms" x="269.2" y="123.56"/><use href="#ms" x="269.9" y="123.5"/><use href="#ms" x="270.6" y="123.45"/><use href="#ms" x="271.3" y="123.4"/><use href="#ms" x="272" y="123.35"/><use href="#ms" x="272.7" y="123.3"/><use href="#ms" x="273.4" y="123.25"/><use href="#ms" x="274.1" y="123.2"/><use href="#ms" x="274.8" y="123.15"/><use href="#ms" x="275.5" y="123.1"/><use href="#ms" x="276.2" y="123.05"/><use href="#ms" x="276.9" y="123"/><use href="#ms" x="277.6" y="122.95"/><use href="#ms" x="278.3" y="122.9"/><use href="#ms" x="279" y="122.85"/><use href="#ms" x="279.7" y="122.81"/><use href="#ms" x="280.4" y="122.76"/><use href="#ms" x="281.1" y="122.71"/><use href="#ms" x="281.8" y="122.66"/><use href="#ms" x="282.5" y="122.61"/><use href="#ms" x="283.2" y="122.57"/><use href="#ms" x="283.9" y="122.52"/><use href="#ms" x="284.6" y="122.47"/><use href="#ms" x="285.3" y="122.42"/><use href="#ms" x="286" y="122.38"/><use href="#ms" x="286.7" y="122.33"/><use href="#ms" x="287.4" y="122.28"/><use href="#ms" x="288.1" y="122.24"/><use href="#ms" x="288.8" y="122.19"/><use href="#ms" x="289.5" y="122.14"/><use href="#ms" x="290.2" y="122.1"/><use href="#ms" x="290.9" y="122.05"/><use href="#ms" x="291.6" y="122"/><use href="#ms" x="292.3" y="121.96"/><use href="#ms" x="293" y="121.91"/><use href="#ms" x="293.7" y="121.86"/><use href="#ms" x="294.4" y="121.82"/><use href="#ms" x="295.1" y="121.77"/><use href="#ms" x="295.8" y="121.73"/><use href="#ms" x="296.5" y="121.68"/><use href="#ms" x="297.2" y="121.63"/><use href="#ms" x="297.9" y="121.59"/><use href="#ms" x="298.6" y="121.54"/><use href="#ms" x="299.3" y="121.5"/><use href="#ms" x="300" y="121.45"/><use href="#ms" x="300.7" y="121.41"/><use href="#ms" x="301.4" y="121.36"/><use href="#ms" x="302.1" y="121.31"/><use href="#ms" x="302.8" y="121.27"/><use href="#ms" x="303.5" y="121.22"/><use href="#ms" x="304.2" y="121.18"/><use href="#ms" x="304.9" y="121.13"/><use href="#ms" x="305.6" y="121.09"/><use href="#ms" x="306.3" y="121.04"/><use href="#ms" x="307" y="121"/><use href="#ms" x="307.7" y="120.95"/><use href="#ms" x="308.4" y="120.9"/><use href="#ms" x="309.1" y="120.86"/><use href="#ms" x="309.8" y="120.81"/><use href="#ms" x="310.5" y="120.77"/><use href="#ms" x="311.2" y="120.72"/><use href="#ms" x="311.9" y="120.68"/><use href="#ms" x="312.6" y="120.63"/><use href="#ms" x="313.3" y="120.59"/><use href="#ms" x="314" y="120.54"/><use href="#ms" x="314.7" y="120.49"/><use href="#ms" x="315.4" y="120.45"/><use href="#ms" x="316.1" y="120.4"/><use href="#ms" x="316.8" y="120.36"/><use href="#ms" x="317.5" y="120.31"/><use href="#ms" x="318.2" y="120.27"/><use href="#ms" x="318.9" y="120.22"/><use href="#ms" x="319.6" y="120.18"/><use href="#ms" x="320.3" y="120.13"/><use href="#ms" x="321" y="120.09"/><use href="#ms" x="321.7" y="120.05"/><use href="#ms" x="322.4" y="120"/><use href="#ms" x="323.1" y="119.96"/><use href="#ms" x="323.8" y="119.91"/><use href="#ms" x="324.5" y="119.87"/><use href="#ms" x="325.2" y="119.82"/><use href="#ms" x="325.9" y="119.78"/><use href="#ms" x="326.6" y="119.73"/><use href="#ms" x="327.3" y="119.69"/><use href="#ms" x="328" y="119.65"/><use href="#ms" x="328.7" y="119.6"/><use href="#ms" x="329.4" y="119.56"/><use href="#ms" x="330.1" y="119.52"/><use href="#ms" x="330.8" y="119.47"/><use href="#ms" x="331.5" y="119.43"/><use href="#ms" x="332.2" y="119.39"/><use href="#ms" x="332.9" y="119.34"/><use href="#ms" x="333.6" y="119.3"/><use href="#ms" x="334.3" y="119.26"/><use href="#ms" x="335" y="119.21"/><use href="#ms" x="335.7" y="119.17"/><use href="#ms" x="336.4" y="119.13"/><use href="#ms" x="337.1" y="119.08"/><use href="#ms" x="337.8" y="119.04"/><use href="#ms" x="338.5" y="119"/><use href="#ms" x="339.2" y="118.96"/><use href="#ms" x="339.9" y="118.91"/><use href="#ms" x="340.6" y="118.87"/><use href="#ms" x="341.3" y="118.83"/><use href="#ms" x="342" y="118.79"/><use href="#ms" x="342.7" y="118.75"/><use href="#ms" x="343.4" y="118.7"/><use href="#ms" x="344.1" y="118.66"/><use href="#ms" x="344.8" y="118.62"/><use href="#ms" x="345.5" y="118.58"/><use href="#ms" x="346.2" y="118.54"/><use href="#ms" x="346.9" y="118.5"/><use href="#ms" x="347.6" y="118.46"/><use href="#ms" x="348.3" y="118.41"/><use href="#ms" x="349" y="118.37"/><use href="#ms" x="349.7" y="118.33"/><use href="#ms" x="350.4" y="118.29"/><use href="#ms" x="351.1" y="118.25"/><use href="#ms" x="351.8" y="118.21"/><use href="#ms" x="352.5" y="118.17"/><use href="#ms" x="353.2" y="118.13"/><use href="#ms" x="353.9" y="118.09"/><use href="#ms" x="354.6" y="118.05"/><use href="#ms" x="355.3" y="118.01"/><use href="#ms" x="356" y="117.97"/><use href="#ms" x="356.7" y="117.93"/><use href="#ms" x="357.4" y="117.89"/><use href="#ms" x="358.1" y="117.85"/><use href="#ms" x="358.8" y="117.81"/><use href="#ms" x="359.5" y="117.77"/><use href="#ms" x="360.2" y="117.73"/><use href="#ms" x="360.9" y="117.7"/><use href="#ms" x="361.6" y="117.66"/><use href="#ms" x="362.3" y="117.62"/><use href="#ms" x="363" y="117.58"/><use href="#ms" x="363.7" y="117.54"/><use href="#ms" x="364.4" y="117.5"/><use href="#ms" x="365.1" y="117.46"/><use href="#ms" x="365.8" y="117.43"/><use href="#ms" x="366.5" y="117.39"/><use href="#ms" x="367.2" y="117.35"/><use href="#ms" x="367.9" y="117.31"/><use href="#ms" x="368.6" y="117.27"/><use href="#ms" x="369.3" y="117.24"/><use href="#ms" x="370" y="117.2"/><use href="#ms" x="370.7" y="117.16"/><use href="#ms" x="371.4" y="117.13"/><use href="#ms" x="372.1" y="117.09"/><use href="#ms" x="372.8" y="117.05"/><use href="#ms" x="373.5" y="117.01"/><use href="#ms" x="374.2" y="116.98"/><use href="#ms" x="374.9" y="116.94"/><use href="#ms" x="375.6" y="116.9"/><use href="#ms" x="376.3" y="116.87"/><use href="#ms" x="377" y="116.83"/><use href="#ms" x="377.7" y="116.79"/><use href="#ms" x="378.4" y="116.76"/><use href="#ms" x="379.1" y="116.72"/><use href="#ms" x="379.8" y="116.69"/><use href="#ms" x="380.5" y="116.65"/><use href="#ms" x="381.2" y="116.61"/><use href="#ms" x="381.9" y="116.58"/><use href="#ms" x="382.6" y="116.54"/><use href="#ms" x="383.3" y="116.51"/><use href="#ms" x="384" y="116.47"/><use href="#ms" x="384.7" y="116.44"/><use href="#ms" x="385.4" y="116.4"/><use href="#ms" x="386.1" y="116.37"/><use href="#ms" x="386.8" y="116.33"/><use href="#ms" x="387.5" y="116.3"/><use href="#ms" x="388.2" y="116.26"/><use href="#ms" x="388.9" y="116.22"/><use href="#ms" x="389.6" y="116.19"/><use href="#ms" x="390.3" y="116.16"/><use href="#ms" x="391" y="116.12"/><use href="#ms" x="391.7" y="116.09"/><use href="#ms" x="392.4" y="116.05"/><use href="#ms" x="393.1" y="116.02"/><use href="#ms" x="393.8" y="115.98"/><use href="#ms" x="394.5" y="115.95"/><use href="#ms" x="395.2" y="115.91"/><use href="#ms" x="395.9" y="115.88"/><use href="#ms" x="396.6" y="115.85"/><use href="#ms" x="397.3" y="115.81"/><use href="#ms" x="398" y="115.78"/><use href="#ms" x="398.7" y="115.74"/><use href="#ms" x="399.4" y="115.71"/><use href="#ms" x="400.1" y="115.68"/><use href="#ms" x="400.8" y="115.64"/><use href="#ms" x="401.5" y="115.61"/><use href="#ms" x="402.2" y="115.58"/><use href="#ms" x="402.9" y="115.54"/><use href="#ms" x="403.6" y="115.51"/><use href="#ms" x="404.3" y="115.48"/><use href="#ms" x="405" y="115.44"/><use href="#ms" x="405.7" y="115.41"/><use href="#ms" x="406.4" y="115.38"/><use href="#ms" x="407.1" y="115.34"/><use href="#ms" x="407.8" y="115.31"/><use href="#ms" x="408.5" y="115.28"/><use href="#ms" x="409.2" y="115.24"/><use href="#ms" x="409.9" y="115.21"/><use href="#ms" x="410.6" y="115.18"/><use href="#ms" x="411.3" y="115.15"/><use href="#ms" x="412" y="115.11"/><use href="#ms" x="412.7" y="115.08"/><use href="#ms" x="413.4" y="115.05"/><use href="#ms" x="414.1" y="115.02"/><use href="#ms" x="414.8" y="114.99"/><use href="#ms" x="415.5" y="114.95"/><use href="#ms" x="416.2" y="114.92"/><use href="#ms" x="416.9" y="114.89"/><use href="#ms" x="417.6" y="114.86"/><use href="#ms" x="418.3" y="114.83"/><use href="#ms" x="419" y="114.79"/><use href="#ms" x="419.7" y="114.76"/><use href="#ms" x="420.4" y="114.73"/><use href="#ms" x="421.1" y="114.7"/><use href="#ms" x="421.8" y="114.67"/><use href="#ms" x="422.5" y="114.64"/><use href="#ms" x="423.2" y="114.6"/><use href="#ms" x="423.9" y="114.57"/><use href="#ms" x="424.6" y="114.54"/><use href="#ms" x="425.3" y="114.51"/><use href="#ms" x="426" y="114.48"/><use href="#ms" x="426.7" y="114.45"/><use href="#ms" x="427.4" y="114.42"/>
<use href="#mtb" x="81.6" y="221.3"/><use href="#mtb" x="82.3" y="196.9"/><use href="#mtb" x="83" y="179.8"/><use href="#mtb" x="83.7" y="166.3"/><use href="#mtb" x="84.4" y="158"/><use href="#mtb" x="85.1" y="150.8"/><use href="#mtb" x="85.8" y="145.6"/><use href="#mtb" x="86.5" y="141.5"/><use href="#mtb" x="87.2" y="138.78"/><use href="#mt" x="87.9" y="136.64"/><use href="#mtb" x="88.6" y="134.6"/><use href="#mtb" x="89.3" y="132.46"/><use href="#mt" x="90" y="130.37"/><use href="#mt" x="90.7" y="128.5"/><use href="#mt" x="91.4" y="126.87"/><use href="#mt" x="92.1" y="125.39"/><use href="#mt" x="92.8" y="124.03"/><use href="#mt" x="93.5" y="122.74"/><use href="#mt" x="94.2" y="121.55"/><use href="#mt" x="94.9" y="120.44"/><use href="#mt" x="95.6" y="119.41"/><use href="#mt" x="96.3" y="118.47"/><use href="#mt" x="97" y="117.59"/><use href="#mt" x="97.7" y="116.76"/><use href="#mt" x="98.4" y="115.98"/><use href="#mt" x="99.1" y="115.25"/><use href="#mt" x="99.8" y="114.56"/><use href="#mt" x="100.5" y="113.92"/><use href="#mt" x="101.2" y="113.32"/><use href="#mt" x="101.9" y="112.75"/><use href="#mt" x="102.6" y="112.22"/><use href="#mt" x="103.3" y="111.71"/><use href="#mt" x="104" y="111.23"/><use href="#mt" x="104.7" y="110.77"/><use href="#mt" x="105.4" y="110.33"/><use href="#mt" x="106.1" y="109.91"/><use href="#mt" x="106.8" y="109.5"/><use href="#mt" x="107.5" y="109.11"/><use href="#mt" x="108.2" y="108.73"/><use href="#mt" x="108.9" y="108.36"/><use href="#mt" x="109.6" y="108"/><use href="#mt" x="110.3" y="107.65"/><use href="#mt" x="111" y="107.32"/><use href="#mt" x="111.7" y="107"/><use href="#mt" x="112.4" y="106.69"/><use href="#mt" x="113.1" y="106.38"/><use href="#mt" x="113.8" y="106.08"/><use href="#mt" x="114.5" y="105.79"/><use href="#mt" x="115.2" y="105.5"/><use href="#mt" x="115.9" y="105.21"/><use href="#mt" x="116.6" y="104.93"/><use href="#mt" x="117.3" y="104.65"/><use href="#mt" x="118" y="104.37"/><use href="#mt" x="118.7" y="104.1"/><use href="#mt" x="119.4" y="103.84"/><use href="#mt" x="120.1" y="103.58"/><use href="#mt" x="120.8" y="103.32"/><use href="#mt" x="121.5" y="103.07"/><use href="#mt" x="122.2" y="102.83"/><use href="#mt" x="122.9" y="102.59"/><use href="#mt" x="123.6" y="102.36"/><use href="#mt" x="124.3" y="102.13"/><use href="#mt" x="125" y="101.91"/><use href="#mt" x="125.7" y="101.69"/><use href="#mt" x="126.4" y="101.48"/><use href="#mt" x="127.1" y="101.28"/><use href="#mt" x="127.8" y="101.08"/><use href="#mt" x="128.5" y="100.89"/><use href="#mt" x="129.2" y="100.71"/><use href="#mt" x="129.9" y="100.53"/><use href="#mt" x="130.6" y="100.35"/><use href="#mt" x="131.3" y="100.18"/><use href="#mt" x="132" y="100.01"/><use href="#mt" x="132.7" y="99.84"/><use href="#mt" x="133.4" y="99.68"/><use href="#mt" x="134.1" y="99.52"/><use href="#mt" x="134.8" y="99.37"/><use href="#mt" x="135.5" y="99.22"/><use href="#mt" x="136.2" y="99.07"/><use href="#mt" x="136.9" y="98.92"/><use href="#mt" x="137.6" y="98.77"/><use href="#mt" x="138.3" y="98.63"/><use href="#mt" x="139" y="98.49"/><use href="#mt" x="139.7" y="98.36"/><use href="#mt" x="140.4" y="98.22"/><use href="#mt" x="141.1" y="98.09"/><use href="#mt" x="141.8" y="97.96"/><use href="#mt" x="142.5" y="97.83"/><use href="#mt" x="143.2" y="97.71"/><use href="#mt" x="143.9" y="97.59"/><use href="#mt" x="144.6" y="97.46"/><use href="#mt" x="145.3" y="97.35"/><use href="#mt" x="146" y="97.23"/><use href="#mt" x="146.7" y="97.11"/><use href="#mt" x="147.4" y="97"/><use href="#mt" x="148.1" y="96.89"/><use href="#mt" x="148.8" y="96.78"/><use href="#mt" x="149.5" y="96.67"/><use href="#mt" x="150.2" y="96.57"/><use href="#mt" x="150.9" y="96.46"/><use href="#mt" x="151.6" y="96.36"/><use href="#mt" x="152.3" y="96.26"/><use href="#mt" x="153" y="96.16"/><use href="#mt" x="153.7" y="96.07"/><use href="#mt" x="154.4" y="95.97"/><use href="#mt" x="155.1" y="95.88"/><use href="#mt" x="155.8" y="95.78"/><use href="#mt" x="156.5" y="95.69"/><use href="#mt" x="157.2" y="95.6"/><use href="#mt" x="157.9" y="95.51"/><use href="#mt" x="158.6" y="95.43"/><use href="#mt" x="159.3" y="95.34"/><use href="#mt" x="160" y="95.26"/><use href="#mt" x="160.7" y="95.17"/><use href="#mt" x="161.4" y="95.09"/><use href="#mt" x="162.1" y="95.02"/><use href="#mt" x="162.8" y="94.94"/><use href="#mt" x="163.5" y="94.86"/><use href="#mt" x="164.2" y="94.79"/><use href="#mt" x="164.9" y="94.71"/><use href="#mt" x="165.6" y="94.64"/><use href="#mt" x="166.3" y="94.57"/><use href="#mt" x="167" y="94.5"/><use href="#mt" x="167.7" y="94.43"/><use href="#mt" x="168.4" y="94.36"/><use href="#mt" x="169.1" y="94.29"/><use href="#mt" x="169.8" y="94.23"/><use href="#mt" x="170.5" y="94.16"/><use href="#mt" x="171.2" y="94.09"/><use href="#mt" x="171.9" y="94.03"/><use href="#mt" x="172.6" y="93.97"/><use href="#mt" x="173.3" y="93.9"/><use href="#mt" x="174" y="93.84"/><use href="#mt" x="174.7" y="93.78"/><use href="#mt" x="175.4" y="93.72"/><use href="#mt" x="176.1" y="93.65"/><use href="#mt" x="176.8" y="93.59"/><use href="#mt" x="177.5" y="93.53"/><use href="#mt" x="178.2" y="93.47"/><use href="#mt" x="178.9" y="93.41"/><use href="#mt" x="179.6" y="93.35"/><use href="#mt" x="180.3" y="93.3"/><use href="#mt" x="181" y="93.24"/><use href="#mt" x="181.7" y="93.18"/><use href="#mt" x="182.4" y="93.12"/><use href="#mt" x="183.1" y="93.06"/><use href="#mt" x="183.8" y="93.01"/><use href="#mt" x="184.5" y="92.95"/><use href="#mt" x="185.2" y="92.89"/><use href="#mt" x="185.9" y="92.83"/><use href="#mt" x="186.6" y="92.78"/><use href="#mt" x="187.3" y="92.72"/><use href="#mt" x="188" y="92.66"/><use href="#mt" x="188.7" y="92.61"/><use href="#mt" x="189.4" y="92.55"/><use href="#mt" x="190.1" y="92.49"/><use href="#mt" x="190.8" y="92.44"/><use href="#mt" x="191.5" y="92.38"/><use href="#mt" x="192.2" y="92.32"/><use href="#mt" x="192.9" y="92.27"/><use href="#mt" x="193.6" y="92.21"/><use href="#mt" x="194.3" y="92.15"/><use href="#mt" x="195" y="92.1"/><use href="#mt" x="195.7" y="92.04"/><use href="#mt" x="196.4" y="91.99"/><use href="#mt" x="197.1" y="91.93"/><use href="#mt" x="197.8" y="91.88"/><use href="#mt" x="198.5" y="91.82"/><use href="#mt" x="199.2" y="91.77"/><use href="#mt" x="199.9" y="91.71"/><use href="#mt" x="200.6" y="91.66"/><use href="#mt" x="201.3" y="91.61"/><use href="#mt" x="202" y="91.55"/><use href="#mt" x="202.7" y="91.5"/><use href="#mt" x="203.4" y="91.45"/><use href="#mt" x="204.1" y="91.39"/><use href="#mt" x="204.8" y="91.34"/><use href="#mt" x="205.5" y="91.29"/><use href="#mt" x="206.2" y="91.24"/><use href="#mt" x="206.9" y="91.18"/><use href="#mt" x="207.6" y="91.13"/><use href="#mt" x="208.3" y="91.08"/><use href="#mt" x="209" y="91.03"/><use href="#mt" x="209.7" y="90.98"/><use href="#mt" x="210.4" y="90.93"/><use href="#mt" x="211.1" y="90.88"/><use href="#mt" x="211.8" y="90.83"/><use href="#mt" x="212.5" y="90.78"/><use href="#mt" x="213.2" y="90.73"/><use href="#mt" x="213.9" y="90.68"/><use href="#mt" x="214.6" y="90.63"/><use href="#mt" x="215.3" y="90.58"/><use href="#mt" x="216" y="90.54"/><use href="#mt" x="216.7" y="90.49"/><use href="#mt" x="217.4" y="90.44"/><use href="#mt" x="218.1" y="90.39"/><use href="#mt" x="218.8" y="90.35"/><use href="#mt" x="219.5" y="90.3"/><use href="#mt" x="220.2" y="90.25"/><use href="#mt" x="220.9" y="90.21"/><use href="#mt" x="221.6" y="90.16"/><use href="#mt" x="222.3" y="90.11"/><use href="#mt" x="223" y="90.07"/><use href="#mt" x="223.7" y="90.02"/><use href="#mt" x="224.4" y="89.98"/><use href="#mt" x="225.1" y="89.94"/><use href="#mt" x="225.8" y="89.89"/><use href="#mt" x="226.5" y="89.85"/><use href="#mt" x="227.2" y="89.8"/><use href="#mt" x="227.9" y="89.76"/><use href="#mt" x="228.6" y="89.72"/><use href="#mt" x="229.3" y="89.68"/><use href="#mt" x="230" y="89.63"/><use href="#mt" x="230.7" y="89.59"/><use href="#mt" x="231.4" y="89.55"/><use href="#mt" x="232.1" y="89.51"/><use href="#mt" x="232.8" y="89.47"/><use href="#mt" x="233.5" y="89.43"/><use href="#mt" x="234.2" y="89.39"/><use href="#mt" x="234.9" y="89.35"/><use href="#mt" x="235.6" y="89.31"/><use href="#mt" x="236.3" y="89.27"/><use href="#mt" x="237" y="89.23"/><use href="#mt" x="237.7" y="89.19"/><use href="#mt" x="238.4" y="89.15"/><use href="#mt" x="239.1" y="89.11"/><use href="#mt" x="239.8" y="89.07"/><use href="#mt" x="240.5" y="89.04"/><use href="#mt" x="241.2" y="89"/><use href="#mt" x="241.9" y="88.96"/><use href="#mt" x="242.6" y="88.92"/><use href="#mt" x="243.3" y="88.89"/><use href="#mt" x="244" y="88.85"/><use href="#mt" x="244.7" y="88.82"/><use href="#mt" x="245.4" y="88.78"/><use href="#mt" x="246.1" y="88.74"/><use href="#mt" x="246.8" y="88.71"/><use href="#mt" x="247.5" y="88.67"/><use href="#mt" x="248.2" y="88.64"/><use href="#mt" x="248.9" y="88.6"/><use href="#mt" x="249.6" y="88.57"/><use href="#mt" x="250.3" y="88.53"/><use href="#mt" x="251" y="88.5"/><use href="#mt" x="251.7" y="88.46"/><use href="#mt" x="252.4" y="88.43"/><use href="#mt" x="253.1" y="88.4"/><use href="#mt" x="253.8" y="88.36"/><use href="#mt" x="254.5" y="88.33"/><use href="#mt" x="255.2" y="88.3"/><use href="#mt" x="255.9" y="88.26"/><use href="#mt" x="256.6" y="88.23"/><use href="#mt" x="257.3" y="88.2"/><use href="#mt" x="258" y="88.16"/><use href="#mt" x="258.7" y="88.13"/><use href="#mt" x="259.4" y="88.1"/><use href="#mt" x="260.1" y="88.06"/><use href="#mt" x="260.8" y="88.03"/><use href="#mt" x="261.5" y="88"/><use href="#mt" x="262.2" y="87.97"/><use href="#mt" x="262.9" y="87.94"/><use href="#mt" x="263.6" y="87.9"/><use href="#mt" x="264.3" y="87.87"/><use href="#mt" x="265" y="87.84"/><use href="#mt" x="265.7" y="87.81"/><use href="#mt" x="266.4" y="87.78"/><use href="#mt" x="267.1" y="87.75"/><use href="#mt" x="267.8" y="87.72"/><use href="#mt" x="268.5" y="87.69"/><use href="#mt" x="269.2" y="87.66"/><use href="#mt" x="269.9" y="87.63"/><use href="#mt" x="270.6" y="87.6"/><use href="#mt" x="271.3" y="87.57"/><use href="#mt" x="272" y="87.54"/><use href="#mt" x="272.7" y="87.51"/><use href="#mt" x="273.4" y="87.48"/><use href="#mt" x="274.1" y="87.45"/><use href="#mt" x="274.8" y="87.42"/><use href="#mt" x="275.5" y="87.39"/><use href="#mt" x="276.2" y="87.36"/><use href="#mt" x="276.9" y="87.33"/><use href="#mt" x="277.6" y="87.31"/><use href="#mt" x="278.3" y="87.28"/><use href="#mt" x="279" y="87.25"/><use href="#mt" x="279.7" y="87.22"/><use href="#mt" x="280.4" y="87.2"/><use href="#mt" x="281.1" y="87.17"/><use href="#mt" x="281.8" y="87.14"/><use href="#mt" x="282.5" y="87.11"/><use href="#mt" x="283.2" y="87.09"/><use href="#mt" x="283.9" y="87.06"/><use href="#mt" x="284.6" y="87.03"/><use href="#mt" x="285.3" y="87.01"/><use href="#mt" x="286" y="86.98"/><use href="#mt" x="286.7" y="86.96"/><use href="#mt" x="287.4" y="86.93"/><use href="#mt" x="288.1" y="86.9"/><use href="#mt" x="288.8" y="86.88"/><use href="#mt" x="289.5" y="86.85"/><use href="#mt" x="290.2" y="86.83"/><use href="#mt" x="290.9" y="86.8"/><use href="#mt" x="291.6" y="86.78"/><use href="#mt" x="292.3" y="86.76"/><use href="#mt" x="293" y="86.73"/><use href="#mt" x="293.7" y="86.71"/><use href="#mt" x="294.4" y="86.68"/><use href="#mt" x="295.1" y="86.66"/><use href="#mt" x="295.8" y="86.64"/><use href="#mt" x="296.5" y="86.61"/><use href="#mt" x="297.2" y="86.59"/><use href="#mt" x="297.9" y="86.57"/><use href="#mt" x="298.6" y="86.54"/><use href="#mt" x="299.3" y="86.52"/><use href="#mt" x="300" y="86.5"/><use href="#mt" x="300.7" y="86.48"/><use href="#mt" x="301.4" y="86.46"/><use href="#mt" x="302.1" y="86.43"/><use href="#mt" x="302.8" y="86.41"/><use href="#mt" x="303.5" y="86.39"/><use href="#mt" x="304.2" y="86.37"/><use href="#mt" x="304.9" y="86.35"/><use href="#mt" x="305.6" y="86.33"/><use href="#mt" x="306.3" y="86.31"/><use href="#mt" x="307" y="86.29"/><use href="#mt" x="307.7" y="86.27"/><use href="#mt" x="308.4" y="86.25"/><use href="#mt" x="309.1" y="86.23"/><use href="#mt" x="309.8" y="86.21"/><use href="#mt" x="310.5" y="86.19"/><use href="#mt" x="311.2" y="86.17"/><use href="#mt" x="311.9" y="86.15"/><use href="#mt" x="312.6" y="86.13"/><use href="#mt" x="313.3" y="86.11"/><use href="#mt" x="314" y="86.09"/><use href="#mt" x="314.7" y="86.07"/><use href="#mt" x="315.4" y="86.05"/><use href="#mt" x="316.1" y="86.04"/><use href="#mt" x="316.8" y="86.02"/><use href="#mt" x="317.5" y="86"/><use href="#mt" x="318.2" y="85.98"/><use href="#mt" x="318.9" y="85.97"/><use href="#mt" x="319.6" y="85.95"/><use href="#mt" x="320.3" y="85.93"/><use href="#mt" x="321" y="85.91"/><use href="#mt" x="321.7" y="85.9"/><use href="#mt" x="322.4" y="85.88"/><use href="#mt" x="323.1" y="85.86"/><use href="#mt" x="323.8" y="85.85"/><use href="#mt" x="324.5" y="85.83"/><use href="#mt" x="325.2" y="85.82"/><use href="#mt" x="325.9" y="85.8"/><use href="#mt" x="326.6" y="85.78"/><use href="#mt" x="327.3" y="85.77"/><use href="#mt" x="328" y="85.75"/><use href="#mt" x="328.7" y="85.74"/><use href="#mt" x="329.4" y="85.72"/><use href="#mt" x="330.1" y="85.7"/><use href="#mt" x="330.8" y="85.69"/><use href="#mt" x="331.5" y="85.67"/><use href="#mt" x="332.2" y="85.66"/><use href="#mt" x="332.9" y="85.64"/><use href="#mt" x="333.6" y="85.63"/><use href="#mt" x="334.3" y="85.61"/><use href="#mt" x="335" y="85.6"/><use href="#mt" x="335.7" y="85.58"/><use href="#mt" x="336.4" y="85.57"/><use href="#mt" x="337.1" y="85.56"/><use href="#mt" x="337.8" y="85.54"/><use href="#mt" x="338.5" y="85.53"/><use href="#mt" x="339.2" y="85.51"/><use href="#mt" x="339.9" y="85.5"/><use href="#mt" x="340.6" y="85.48"/><use href="#mt" x="341.3" y="85.47"/><use href="#mt" x="342" y="85.46"/><use href="#mt" x="342.7" y="85.44"/><use href="#mt" x="343.4" y="85.43"/><use href="#mt" x="344.1" y="85.41"/><use href="#mt" x="344.8" y="85.4"/><use href="#mt" x="345.5" y="85.38"/><use href="#mt" x="346.2" y="85.37"/><use href="#mt" x="346.9" y="85.36"/><use href="#mt" x="347.6" y="85.34"/><use href="#mt" x="348.3" y="85.33"/><use href="#mt" x="349" y="85.31"/><use href="#mt" x="349.7" y="85.3"/><use href="#mt" x="350.4" y="85.29"/><use href="#mt" x="351.1" y="85.27"/><use href="#mt" x="351.8" y="85.26"/><use href="#mt" x="352.5" y="85.25"/><use href="#mt" x="353.2" y="85.23"/><use href="#mt" x="353.9" y="85.22"/><use href="#mt" x="354.6" y="85.2"/><use href="#mt" x="355.3" y="85.19"/><use href="#mt" x="356" y="85.18"/><use href="#mt" x="356.7" y="85.16"/><use href="#mt" x="357.4" y="85.15"/><use href="#mt" x="358.1" y="85.14"/><use href="#mt" x="358.8" y="85.12"/><use href="#mt" x="359.5" y="85.11"/><use href="#mt" x="360.2" y="85.09"/><use href="#mt" x="360.9" y="85.08"/><use href="#mt" x="361.6" y="85.07"/><use href="#mt" x="362.3" y="85.05"/><use href="#mt" x="363" y="85.04"/><use href="#mt" x="363.7" y="85.03"/><use href="#mt" x="364.4" y="85.01"/><use href="#mt" x="365.1" y="85"/><use href="#mt" x="365.8" y="84.98"/><use href="#mt" x="366.5" y="84.97"/><use href="#mt" x="367.2" y="84.96"/><use href="#mt" x="367.9" y="84.94"/><use href="#mt" x="368.6" y="84.93"/><use href="#mt" x="369.3" y="84.91"/><use href="#mt" x="370" y="84.9"/><use href="#mt" x="370.7" y="84.89"/><use href="#mt" x="371.4" y="84.87"/><use href="#mt" x="372.1" y="84.86"/><use href="#mt" x="372.8" y="84.84"/><use href="#mt" x="373.5" y="84.83"/><use href="#mt" x="374.2" y="84.82"/><use href="#mt" x="374.9" y="84.8"/><use href="#mt" x="375.6" y="84.79"/><use href="#mt" x="376.3" y="84.77"/><use href="#mt" x="377" y="84.76"/><use href="#mt" x="377.7" y="84.75"/><use href="#mt" x="378.4" y="84.73"/><use href="#mt" x="379.1" y="84.72"/><use href="#mt" x="379.8" y="84.7"/><use href="#mt" x="380.5" y="84.69"/><use href="#mt" x="381.2" y="84.68"/><use href="#mt" x="381.9" y="84.66"/><use href="#mt" x="382.6" y="84.65"/><use href="#mt" x="383.3" y="84.64"/><use href="#mt" x="384" y="84.62"/><use href="#mt" x="384.7" y="84.61"/><use href="#mt" x="385.4" y="84.59"/><use href="#mt" x="386.1" y="84.58"/><use href="#mt" x="386.8" y="84.57"/><use href="#mt" x="387.5" y="84.55"/><use href="#mt" x="388.2" y="84.54"/><use href="#mt" x="388.9" y="84.53"/><use href="#mt" x="389.6" y="84.51"/><use href="#mt" x="390.3" y="84.5"/><use href="#mt" x="391" y="84.49"/><use href="#mt" x="391.7" y="84.47"/><use href="#mt" x="392.4" y="84.46"/><use href="#mt" x="393.1" y="84.45"/><use href="#mt" x="393.8" y="84.43"/><use href="#mt" x="394.5" y="84.42"/><use href="#mt" x="395.2" y="84.41"/><use href="#mt" x="395.9" y="84.39"/><use href="#mt" x="396.6" y="84.38"/><use href="#mt" x="397.3" y="84.36"/><use href="#mt" x="398" y="84.35"/><use href="#mt" x="398.7" y="84.34"/><use href="#mt" x="399.4" y="84.32"/><use href="#mt" x="400.1" y="84.31"/><use href="#mt" x="400.8" y="84.3"/><use href="#mt" x="401.5" y="84.29"/><use href="#mt" x="402.2" y="84.27"/><use href="#mt" x="402.9" y="84.26"/><use href="#mt" x="403.6" y="84.25"/><use href="#mt" x="404.3" y="84.23"/><use href="#mt" x="405" y="84.22"/><use href="#mt" x="405.7" y="84.21"/><use href="#mt" x="406.4" y="84.19"/><use href="#mt" x="407.1" y="84.18"/><use href="#mt" x="407.8" y="84.17"/><use href="#mt" x="408.5" y="84.15"/><use href="#mt" x="409.2" y="84.14"/><use href="#mt" x="409.9" y="84.13"/><use href="#mt" x="410.6" y="84.11"/><use href="#mt" x="411.3" y="84.1"/><use href="#mt" x="412" y="84.09"/><use href="#mt" x="412.7" y="84.08"/><use href="#mt" x="413.4" y="84.06"/><use href="#mt" x="414.1" y="84.05"/><use href="#mt" x="414.8" y="84.04"/><use href="#mt" x="415.5" y="84.02"/><use href="#mt" x="416.2" y="84.01"/><use href="#mt" x="416.9" y="84"/><use href="#mt" x="417.6" y="83.99"/><use href="#mt" x="418.3" y="83.97"/><use href="#mt" x="419" y="83.96"/><use href="#mt" x="419.7" y="83.95"/><use href="#mt" x="420.4" y="83.93"/><use href="#mt" x="421.1" y="83.92"/><use href="#mt" x="421.8" y="83.91"/><use href="#mt" x="422.5" y="83.9"/><use href="#mt" x="423.2" y="83.88"/><use href="#mt" x="423.9" y="83.87"/><use href="#mt" x="424.6" y="83.86"/><use href="#mt" x="425.3" y="83.85"/><use href="#mt" x="426" y="83.83"/><use href="#mt" x="426.7" y="83.82"/><use href="#mt" x="427.4" y="83.81"/>
<use href="#mcb" x="81.6" y="223.9"/><use href="#mcb" x="82.3" y="196.4"/><use href="#mcb" x="83" y="173.7"/><use href="#mcb" x="83.7" y="156"/><use href="#mcb" x="84.4" y="142.3"/><use href="#mcb" x="85.1" y="132.1"/><use href="#mcb" x="85.8" y="124.7"/><use href="#mcb" x="86.5" y="118.7"/><use href="#mcb" x="87.2" y="113.6"/><use href="#mcb" x="87.9" y="109.8"/><use href="#mc" x="88.6" y="107.18"/><use href="#mc" x="89.3" y="105.2"/><use href="#mc" x="90" y="103.7"/><use href="#mc" x="90.7" y="102.47"/><use href="#mc" x="91.4" y="101.41"/><use href="#mc" x="92.1" y="100.46"/><use href="#mc" x="92.8" y="99.59"/><use href="#mc" x="93.5" y="98.74"/><use href="#mc" x="94.2" y="97.9"/><use href="#mc" x="94.9" y="97.07"/><use href="#mc" x="95.6" y="96.27"/><use href="#mc" x="96.3" y="95.51"/><use href="#mc" x="97" y="94.77"/><use href="#mc" x="97.7" y="94.08"/><use href="#mc" x="98.4" y="93.42"/><use href="#mc" x="99.1" y="92.8"/><use href="#mc" x="99.8" y="92.22"/><use href="#mc" x="100.5" y="91.67"/><use href="#mc" x="101.2" y="91.13"/><use href="#mc" x="101.9" y="90.62"/><use href="#mc" x="102.6" y="90.13"/><use href="#mc" x="103.3" y="89.66"/><use href="#mc" x="104" y="89.2"/><use href="#mc" x="104.7" y="88.78"/><use href="#mc" x="105.4" y="88.37"/><use href="#mc" x="106.1" y="87.98"/><use href="#mc" x="106.8" y="87.61"/><use href="#mc" x="107.5" y="87.26"/><use href="#mc" x="108.2" y="86.93"/><use href="#mc" x="108.9" y="86.63"/><use href="#mc" x="109.6" y="86.33"/><use href="#mc" x="110.3" y="86.05"/><use href="#mc" x="111" y="85.78"/><use href="#mc" x="111.7" y="85.53"/><use href="#mc" x="112.4" y="85.28"/><use href="#mc" x="113.1" y="85.04"/><use href="#mc" x="113.8" y="84.82"/><use href="#mc" x="114.5" y="84.6"/><use href="#mc" x="115.2" y="84.38"/><use href="#mc" x="115.9" y="84.18"/><use href="#mc" x="116.6" y="83.98"/><use href="#mc" x="117.3" y="83.78"/><use href="#mc" x="118" y="83.59"/><use href="#mc" x="118.7" y="83.41"/><use href="#mc" x="119.4" y="83.23"/><use href="#mc" x="120.1" y="83.05"/><use href="#mc" x="120.8" y="82.88"/><use href="#mc" x="121.5" y="82.71"/><use href="#mc" x="122.2" y="82.54"/><use href="#mc" x="122.9" y="82.38"/><use href="#mc" x="123.6" y="82.22"/><use href="#mc" x="124.3" y="82.07"/><use href="#mc" x="125" y="81.92"/><use href="#mc" x="125.7" y="81.78"/><use href="#mc" x="126.4" y="81.64"/><use href="#mc" x="127.1" y="81.51"/><use href="#mc" x="127.8" y="81.38"/><use href="#mc" x="128.5" y="81.25"/><use href="#mc" x="129.2" y="81.13"/><use href="#mc" x="129.9" y="81.02"/><use href="#mc" x="130.6" y="80.9"/><use href="#mc" x="131.3" y="80.79"/><use href="#mc" x="132" y="80.69"/><use href="#mc" x="132.7" y="80.58"/><use href="#mc" x="133.4" y="80.48"/><use href="#mc" x="134.1" y="80.38"/><use href="#mc" x="134.8" y="80.28"/><use href="#mc" x="135.5" y="80.19"/><use href="#mc" x="136.2" y="80.09"/><use href="#mc" x="136.9" y="80"/><use href="#mc" x="137.6" y="79.91"/><use href="#mc" x="138.3" y="79.83"/><use href="#mc" x="139" y="79.74"/><use href="#mc" x="139.7" y="79.66"/><use href="#mc" x="140.4" y="79.57"/><use href="#mc" x="141.1" y="79.49"/><use href="#mc" x="141.8" y="79.41"/><use href="#mc" x="142.5" y="79.34"/><use href="#mc" x="143.2" y="79.26"/><use href="#mc" x="143.9" y="79.18"/><use href="#mc" x="144.6" y="79.11"/><use href="#mc" x="145.3" y="79.04"/><use href="#mc" x="146" y="78.97"/><use href="#mc" x="146.7" y="78.9"/><use href="#mc" x="147.4" y="78.83"/><use href="#mc" x="148.1" y="78.76"/><use href="#mc" x="148.8" y="78.69"/><use href="#mc" x="149.5" y="78.63"/><use href="#mc" x="150.2" y="78.56"/><use href="#mc" x="150.9" y="78.5"/><use href="#mc" x="151.6" y="78.44"/><use href="#mc" x="152.3" y="78.37"/><use href="#mc" x="153" y="78.31"/><use href="#mc" x="153.7" y="78.25"/><use href="#mc" x="154.4" y="78.19"/><use href="#mc" x="155.1" y="78.13"/><use href="#mc" x="155.8" y="78.08"/><use href="#mc" x="156.5" y="78.02"/><use href="#mc" x="157.2" y="77.96"/><use href="#mc" x="157.9" y="77.91"/><use href="#mc" x="158.6" y="77.85"/><use href="#mc" x="159.3" y="77.8"/><use href="#mc" x="160" y="77.75"/><use href="#mc" x="160.7" y="77.69"/><use href="#mc" x="161.4" y="77.64"/><use href="#mc" x="162.1" y="77.59"/><use href="#mc" x="162.8" y="77.54"/><use href="#mc" x="163.5" y="77.49"/><use href="#mc" x="164.2" y="77.44"/><use href="#mc" x="164.9" y="77.4"/><use href="#mc" x="165.6" y="77.35"/><use href="#mc" x="166.3" y="77.3"/><use href="#mc" x="167" y="77.25"/><use href="#mc" x="167.7" y="77.21"/><use href="#mc" x="168.4" y="77.16"/><use href="#mc" x="169.1" y="77.12"/><use href="#mc" x="169.8" y="77.08"/><use href="#mc" x="170.5" y="77.03"/><use href="#mc" x="171.2" y="76.99"/><use href="#mc" x="171.9" y="76.95"/><use href="#mc" x="172.6" y="76.91"/><use href="#mc" x="173.3" y="76.86"/><use href="#mc" x="174" y="76.82"/><use href="#mc" x="174.7" y="76.78"/><use href="#mc" x="175.4" y="76.74"/><use href="#mc" x="176.1" y="76.7"/><use href="#mc" x="176.8" y="76.67"/><use href="#mc" x="177.5" y="76.63"/><use href="#mc" x="178.2" y="76.59"/><use href="#mc" x="178.9" y="76.55"/><use href="#mc" x="179.6" y="76.51"/><use href="#mc" x="180.3" y="76.48"/><use href="#mc" x="181" y="76.44"/><use href="#mc" x="181.7" y="76.4"/><use href="#mc" x="182.4" y="76.37"/><use href="#mc" x="183.1" y="76.33"/><use href="#mc" x="183.8" y="76.3"/><use href="#mc" x="184.5" y="76.26"/><use href="#mc" x="185.2" y="76.23"/><use href="#mc" x="185.9" y="76.19"/><use href="#mc" x="186.6" y="76.16"/><use href="#mc" x="187.3" y="76.13"/><use href="#mc" x="188" y="76.09"/><use href="#mc" x="188.7" y="76.06"/><use href="#mc" x="189.4" y="76.03"/><use href="#mc" x="190.1" y="76"/><use href="#mc" x="190.8" y="75.96"/><use href="#mc" x="191.5" y="75.93"/><use href="#mc" x="192.2" y="75.9"/><use href="#mc" x="192.9" y="75.87"/><use href="#mc" x="193.6" y="75.84"/><use href="#mc" x="194.3" y="75.81"/><use href="#mc" x="195" y="75.78"/><use href="#mc" x="195.7" y="75.75"/><use href="#mc" x="196.4" y="75.72"/><use href="#mc" x="197.1" y="75.69"/><use href="#mc" x="197.8" y="75.66"/><use href="#mc" x="198.5" y="75.63"/><use href="#mc" x="199.2" y="75.6"/><use href="#mc" x="199.9" y="75.57"/><use href="#mc" x="200.6" y="75.54"/><use href="#mc" x="201.3" y="75.51"/><use href="#mc" x="202" y="75.48"/><use href="#mc" x="202.7" y="75.46"/><use href="#mc" x="203.4" y="75.43"/><use href="#mc" x="204.1" y="75.4"/><use href="#mc" x="204.8" y="75.37"/><use href="#mc" x="205.5" y="75.35"/><use href="#mc" x="206.2" y="75.32"/><use href="#mc" x="206.9" y="75.3"/><use href="#mc" x="207.6" y="75.27"/><use href="#mc" x="208.3" y="75.24"/><use href="#mc" x="209" y="75.22"/><use href="#mc" x="209.7" y="75.19"/><use href="#mc" x="210.4" y="75.17"/><use href="#mc" x="211.1" y="75.14"/><use href="#mc" x="211.8" y="75.12"/><use href="#mc" x="212.5" y="75.09"/><use href="#mc" x="213.2" y="75.07"/><use href="#mc" x="213.9" y="75.05"/><use href="#mc" x="214.6" y="75.02"/><use href="#mc" x="215.3" y="75"/><use href="#mc" x="216" y="74.98"/><use href="#mc" x="216.7" y="74.95"/><use href="#mc" x="217.4" y="74.93"/><use href="#mc" x="218.1" y="74.91"/><use href="#mc" x="218.8" y="74.89"/><use href="#mc" x="219.5" y="74.86"/><use href="#mc" x="220.2" y="74.84"/><use href="#mc" x="220.9" y="74.82"/><use href="#mc" x="221.6" y="74.8"/><use href="#mc" x="222.3" y="74.78"/><use href="#mc" x="223" y="74.76"/><use href="#mc" x="223.7" y="74.74"/><use href="#mc" x="224.4" y="74.72"/><use href="#mc" x="225.1" y="74.7"/><use href="#mc" x="225.8" y="74.68"/><use href="#mc" x="226.5" y="74.66"/><use href="#mc" x="227.2" y="74.64"/><use href="#mc" x="227.9" y="74.62"/><use href="#mc" x="228.6" y="74.6"/><use href="#mc" x="229.3" y="74.58"/><use href="#mc" x="230" y="74.56"/><use href="#mc" x="230.7" y="74.54"/><use href="#mc" x="231.4" y="74.52"/><use href="#mc" x="232.1" y="74.51"/><use href="#mc" x="232.8" y="74.49"/><use href="#mc" x="233.5" y="74.47"/><use href="#mc" x="234.2" y="74.45"/><use href="#mc" x="234.9" y="74.43"/><use href="#mc" x="235.6" y="74.42"/><use href="#mc" x="236.3" y="74.4"/><use href="#mc" x="237" y="74.38"/><use href="#mc" x="237.7" y="74.37"/><use href="#mc" x="238.4" y="74.35"/><use href="#mc" x="239.1" y="74.33"/><use href="#mc" x="239.8" y="74.31"/><use href="#mc" x="240.5" y="74.3"/><use href="#mc" x="241.2" y="74.28"/><use href="#mc" x="241.9" y="74.27"/><use href="#mc" x="242.6" y="74.25"/><use href="#mc" x="243.3" y="74.23"/><use href="#mc" x="244" y="74.22"/><use href="#mc" x="244.7" y="74.2"/><use href="#mc" x="245.4" y="74.19"/><use href="#mc" x="246.1" y="74.17"/><use href="#mc" x="246.8" y="74.16"/><use href="#mc" x="247.5" y="74.14"/><use href="#mc" x="248.2" y="74.13"/><use href="#mc" x="248.9" y="74.11"/><use href="#mc" x="249.6" y="74.1"/><use href="#mc" x="250.3" y="74.08"/><use href="#mc" x="251" y="74.07"/><use href="#mc" x="251.7" y="74.05"/><use href="#mc" x="252.4" y="74.04"/><use href="#mc" x="253.1" y="74.03"/><use href="#mc" x="253.8" y="74.01"/><use href="#mc" x="254.5" y="74"/><use href="#mc" x="255.2" y="73.98"/><use href="#mc" x="255.9" y="73.97"/><use href="#mc" x="256.6" y="73.96"/><use href="#mc" x="257.3" y="73.94"/><use href="#mc" x="258" y="73.93"/><use href="#mc" x="258.7" y="73.92"/><use href="#mc" x="259.4" y="73.9"/>
</g>
<rect x="253.5" y="169.2" width="174" height="140.6" fill="#fff" stroke="none"/>
<rect x="253.5" y="169.2" width="174" height="140.6" fill="none" stroke="#a4a4a4" stroke-width="0.6"/>
<path d="M253.5,309.8L253.5,306.6M253.5,169.2L253.5,172.4M262.2,309.8L262.2,307.6M262.2,169.2L262.2,171.4M270.9,309.8L270.9,307.6M270.9,169.2L270.9,171.4M279.6,309.8L279.6,307.6M279.6,169.2L279.6,171.4M288.3,309.8L288.3,306.6M288.3,169.2L288.3,172.4M297,309.8L297,307.6M297,169.2L297,171.4M305.7,309.8L305.7,307.6M305.7,169.2L305.7,171.4M314.4,309.8L314.4,307.6M314.4,169.2L314.4,171.4M323.1,309.8L323.1,306.6M323.1,169.2L323.1,172.4M331.8,309.8L331.8,307.6M331.8,169.2L331.8,171.4M340.5,309.8L340.5,307.6M340.5,169.2L340.5,171.4M349.2,309.8L349.2,307.6M349.2,169.2L349.2,171.4M357.9,309.8L357.9,306.6M357.9,169.2L357.9,172.4M366.6,309.8L366.6,307.6M366.6,169.2L366.6,171.4M375.3,309.8L375.3,307.6M375.3,169.2L375.3,171.4M384,309.8L384,307.6M384,169.2L384,171.4M392.7,309.8L392.7,306.6M392.7,169.2L392.7,172.4M401.4,309.8L401.4,307.6M401.4,169.2L401.4,171.4M410.1,309.8L410.1,307.6M410.1,169.2L410.1,171.4M418.8,309.8L418.8,307.6M418.8,169.2L418.8,171.4M427.5,309.8L427.5,306.6M427.5,169.2L427.5,172.4M253.5,309.8L256.7,309.8M427.5,309.8L424.3,309.8M253.5,305.11L255.5,305.11M427.5,305.11L425.5,305.11M253.5,300.43L255.5,300.43M427.5,300.43L425.5,300.43M253.5,295.74L255.5,295.74M427.5,295.74L425.5,295.74M253.5,291.05L255.5,291.05M427.5,291.05L425.5,291.05M253.5,286.37L256.7,286.37M427.5,286.37L424.3,286.37M253.5,281.68L255.5,281.68M427.5,281.68L425.5,281.68M253.5,276.99L255.5,276.99M427.5,276.99L425.5,276.99M253.5,272.31L255.5,272.31M427.5,272.31L425.5,272.31M253.5,267.62L255.5,267.62M427.5,267.62L425.5,267.62M253.5,262.93L256.7,262.93M427.5,262.93L424.3,262.93M253.5,258.25L255.5,258.25M427.5,258.25L425.5,258.25M253.5,253.56L255.5,253.56M427.5,253.56L425.5,253.56M253.5,248.87L255.5,248.87M427.5,248.87L425.5,248.87M253.5,244.19L255.5,244.19M427.5,244.19L425.5,244.19M253.5,239.5L256.7,239.5M427.5,239.5L424.3,239.5M253.5,234.81L255.5,234.81M427.5,234.81L425.5,234.81M253.5,230.13L255.5,230.13M427.5,230.13L425.5,230.13M253.5,225.44L255.5,225.44M427.5,225.44L425.5,225.44M253.5,220.75L255.5,220.75M427.5,220.75L425.5,220.75M253.5,216.07L256.7,216.07M427.5,216.07L424.3,216.07M253.5,211.38L255.5,211.38M427.5,211.38L425.5,211.38M253.5,206.69L255.5,206.69M427.5,206.69L425.5,206.69M253.5,202.01L255.5,202.01M427.5,202.01L425.5,202.01M253.5,197.32L255.5,197.32M427.5,197.32L425.5,197.32M253.5,192.63L256.7,192.63M427.5,192.63L424.3,192.63M253.5,187.95L255.5,187.95M427.5,187.95L425.5,187.95M253.5,183.26L255.5,183.26M427.5,183.26L425.5,183.26M253.5,178.57L255.5,178.57M427.5,178.57L425.5,178.57M253.5,173.89L255.5,173.89M427.5,173.89L425.5,173.89M253.5,169.2L256.7,169.2M427.5,169.2L424.3,169.2" fill="none" stroke="#a4a4a4" stroke-width="0.5"/>
<use href="#is" x="254" y="175.7"/><use href="#is" x="256.6" y="183.22"/><use href="#is" x="259.2" y="187.33"/><use href="#is" x="261.8" y="190.43"/><use href="#is" x="264.4" y="192.94"/><use href="#is" x="267" y="194.78"/><use href="#is" x="269.6" y="196.14"/><use href="#is" x="272.2" y="197.26"/><use href="#is" x="274.8" y="198.21"/><use href="#is" x="277.4" y="199.1"/><use href="#is" x="280" y="199.95"/><use href="#is" x="282.6" y="200.73"/><use href="#is" x="285.2" y="201.45"/><use href="#is" x="287.8" y="202.13"/><use href="#is" x="290.4" y="202.78"/><use href="#is" x="293" y="203.39"/><use href="#is" x="295.6" y="203.96"/><use href="#is" x="298.2" y="204.5"/><use href="#is" x="300.8" y="205.05"/><use href="#is" x="303.4" y="205.6"/><use href="#is" x="306" y="206.21"/><use href="#is" x="312" y="207.46"/><use href="#is" x="318.76" y="208.26"/><use href="#is" x="325.52" y="208.91"/><use href="#is" x="332.28" y="209.57"/><use href="#is" x="339.04" y="210.2"/><use href="#is" x="345.8" y="210.82"/><use href="#is" x="352.56" y="211.41"/><use href="#is" x="359.32" y="211.97"/><use href="#is" x="366.08" y="212.52"/><use href="#is" x="372.84" y="213.04"/><use href="#is" x="379.6" y="213.53"/><use href="#is" x="386.36" y="214.01"/><use href="#is" x="393.12" y="214.47"/><use href="#is" x="399.88" y="214.92"/><use href="#is" x="406.64" y="215.34"/><use href="#is" x="413.4" y="215.74"/><use href="#is" x="420.16" y="216.11"/>
<use href="#it" x="254" y="204.1"/><use href="#it" x="255.8" y="209.85"/><use href="#it" x="257.6" y="213.5"/><use href="#it" x="259.4" y="217"/><use href="#it" x="261.2" y="219.58"/><use href="#it" x="263" y="221.48"/><use href="#it" x="264.8" y="222.99"/><use href="#it" x="266.6" y="224.24"/><use href="#it" x="268.4" y="225.32"/><use href="#it" x="270.2" y="226.31"/><use href="#it" x="272" y="227.2"/><use href="#it" x="273.8" y="228.02"/><use href="#it" x="275.6" y="228.78"/><use href="#it" x="277.4" y="229.49"/><use href="#it" x="279.2" y="230.17"/><use href="#it" x="281" y="230.8"/><use href="#it" x="282.8" y="231.38"/><use href="#it" x="284.6" y="231.89"/><use href="#it" x="286.4" y="232.36"/><use href="#it" x="288.2" y="232.8"/><use href="#it" x="290" y="233.22"/><use href="#it" x="291.8" y="233.61"/><use href="#it" x="293.6" y="233.98"/><use href="#it" x="295.4" y="234.32"/><use href="#it" x="297.2" y="234.62"/><use href="#it" x="299" y="234.9"/><use href="#it" x="308" y="235.9"/><use href="#it" x="314.65" y="236.83"/><use href="#it" x="321.3" y="237.66"/><use href="#it" x="327.95" y="238.28"/><use href="#it" x="334.6" y="239.01"/><use href="#it" x="341.25" y="239.82"/><use href="#it" x="347.9" y="240.54"/><use href="#it" x="354.55" y="241.04"/><use href="#it" x="361.2" y="241.51"/><use href="#it" x="367.85" y="241.96"/><use href="#it" x="374.5" y="242.39"/><use href="#it" x="381.15" y="242.79"/><use href="#it" x="387.8" y="243.15"/><use href="#it" x="394.45" y="243.47"/><use href="#it" x="401.1" y="243.73"/><use href="#it" x="407.75" y="243.93"/><use href="#it" x="414.4" y="244.05"/><use href="#it" x="421.05" y="244.1"/>
<use href="#ic" x="253.9" y="243.7"/><use href="#ic" x="255.4" y="246.4"/><use href="#ic" x="256.9" y="248.74"/><use href="#ic" x="258.4" y="250.78"/><use href="#ic" x="259.9" y="252.38"/><use href="#ic" x="261.4" y="253.64"/><use href="#ic" x="262.9" y="254.64"/><use href="#ic" x="264.4" y="255.43"/><use href="#ic" x="265.9" y="256.11"/><use href="#ic" x="267.4" y="256.71"/><use href="#ic" x="268.9" y="257.27"/><use href="#ic" x="270.4" y="257.8"/><use href="#ic" x="271.9" y="258.32"/><use href="#ic" x="273.4" y="258.81"/><use href="#ic" x="274.9" y="259.28"/><use href="#ic" x="276.4" y="259.72"/><use href="#ic" x="277.9" y="260.15"/><use href="#ic" x="279.4" y="260.57"/><use href="#ic" x="280.9" y="260.98"/><use href="#ic" x="282.4" y="261.39"/><use href="#ic" x="283.9" y="261.78"/><use href="#ic" x="285.4" y="262.15"/><use href="#ic" x="286.9" y="262.5"/><use href="#ic" x="288.4" y="262.84"/><use href="#ic" x="289.9" y="263.14"/><use href="#ic" x="291.4" y="263.43"/><use href="#ic" x="292.9" y="263.69"/><use href="#ic" x="294.4" y="263.95"/><use href="#ic" x="295.9" y="264.21"/><use href="#ic" x="297.4" y="264.47"/><use href="#ic" x="304.7" y="265.7"/><use href="#ic" x="311.15" y="266.65"/><use href="#ic" x="317.6" y="267.24"/><use href="#ic" x="324.05" y="267.94"/><use href="#ic" x="330.5" y="268.51"/><use href="#ic" x="336.95" y="269.04"/><use href="#ic" x="343.4" y="269.55"/><use href="#ic" x="349.85" y="270.04"/><use href="#ic" x="356.3" y="270.5"/><use href="#ic" x="362.75" y="270.91"/><use href="#ic" x="369.2" y="271.25"/><use href="#ic" x="375.65" y="271.52"/><use href="#ic" x="382.1" y="271.75"/><use href="#ic" x="388.55" y="271.96"/><use href="#ic" x="395" y="272.16"/><use href="#ic" x="401.45" y="272.33"/><use href="#ic" x="407.9" y="272.46"/><use href="#ic" x="414.35" y="272.56"/><use href="#ic" x="420.8" y="272.6"/>
<rect x="254.2" y="269.4" width="61.1" height="40.4" fill="#fff" stroke="#b0b0b0" stroke-width="0.55"/>
<use href="#ic" x="266.1" y="278.2"/>
<text x="276.8" y="281.4" font-size="9.6" fill="#FF1A60">30K 0T</text>
<use href="#it" x="266.1" y="289.9"/>
<text x="276.8" y="293.1" font-size="9.6" fill="#0000CD">30K 0.1T</text>
<use href="#is" x="266.1" y="302.0"/>
<text x="276.8" y="305.2" font-size="9.6" fill="#000">30K 0.2T</text>
<text x="251.5" y="312.8" font-size="9" text-anchor="end">0</text>
<text x="251.5" y="289.37" font-size="9" text-anchor="end">5</text>
<text x="251.5" y="265.93" font-size="9" text-anchor="end">10</text>
<text x="251.5" y="242.5" font-size="9" text-anchor="end">15</text>
<text x="251.5" y="219.07" font-size="9" text-anchor="end">20</text>
<text x="251.5" y="195.63" font-size="9" text-anchor="end">25</text>
<text x="251.5" y="172.2" font-size="9" text-anchor="end">30</text>
<text x="251.5" y="318.9" font-size="7.5" text-anchor="middle">0</text>
<text x="287.4" y="318.9" font-size="7.5" text-anchor="middle">2000</text>
<text x="323.3" y="318.9" font-size="7.5" text-anchor="middle">4000</text>
<text x="359.2" y="318.9" font-size="7.5" text-anchor="middle">6000</text>
<text x="395.1" y="318.9" font-size="7.5" text-anchor="middle">8000</text>
<text x="425.9" y="318.9" font-size="7.5">1 10<tspan font-size="3.6" dy="-2.6">4</tspan></text>
<text x="342.4" y="329.7" font-size="9.6" text-anchor="middle">time [s]</text>
<text transform="translate(235.8,268.7) rotate(-90)" font-size="11">M<tspan font-size="7" dy="2.5">c</tspan><tspan dy="-2.5">(t)</tspan><tspan dx="9.6" font-size="11.5">(emu/g)</tspan></text>
<rect x="92.1" y="236.8" width="127.8" height="98.4" fill="#fff" stroke="#aaa" stroke-width="0.6"/>
<use href="#mcl" x="116.5" y="252.8"/>
<text x="137.3" y="258.8" font-size="18.7" letter-spacing="0.22" fill="#FF1A60">30K 0T</text>
<use href="#mtl" x="116.5" y="274.8"/>
<text x="137.3" y="280.8" font-size="18.7" letter-spacing="0.22" fill="#0000CD">30K 0.1T</text>
<use href="#msl" x="116.5" y="296.8"/>
<text x="137.3" y="302.8" font-size="18.7" letter-spacing="0.22" fill="#000">30K 0.2T</text>
<use href="#mxl" x="116.5" y="318.8"/>
<text x="137.3" y="324.8" font-size="18.7" letter-spacing="0.22" fill="#000">30K 0.3T</text>
<text x="114.8" y="66" font-size="27.6">(a)</text>
<text x="286" y="69.5" font-size="21.55">virgin value</text>
<text x="122.8" y="213.4" font-size="19.8">H//c-axis</text>
<text x="68.3" y="49.7" font-size="11.8" textLength="4.2" lengthAdjust="spacingAndGlyphs">1</text>
<text x="59.2" y="275.2" font-size="11.8" textLength="13.2" lengthAdjust="spacingAndGlyphs">0.1</text>
<text x="81.6" y="358.7" font-size="11" text-anchor="middle">0</text>
<text x="150.88" y="358.7" font-size="11" text-anchor="middle">2000</text>
<text x="220.16" y="358.7" font-size="11" text-anchor="middle">4000</text>
<text x="289.44" y="358.7" font-size="11" text-anchor="middle">6000</text>
<text x="358.72" y="358.7" font-size="11" text-anchor="middle">8000</text>
<text x="416.8" y="358.7" font-size="11">1 10<tspan font-size="7" dy="-4">4</tspan></text>
<text x="222.3" y="384.5" font-size="24.8">t (s)</text>
<text transform="translate(44.0,214.5) rotate(-90)" font-size="23.5">R<tspan font-size="14.5" dy="12.3" dx="0.5">ab</tspan><tspan dy="-12.3" dx="1" font-size="24.5"> (Ω)</tspan></text>
<rect x="81.3" y="394.4" width="350.1" height="302.8" fill="none" stroke="#9c9c9c" stroke-width="0.5"/>
<path d="M151.32,697.2L151.32,693.7M151.32,394.4L151.32,397.9M221.34,697.2L221.34,693.7M221.34,394.4L221.34,397.9M291.36,697.2L291.36,693.7M291.36,394.4L291.36,397.9M361.38,697.2L361.38,693.7M361.38,394.4L361.38,397.9M81.3,697.2L85.8,697.2M431.4,697.2L426.9,697.2M81.3,666.82L85.8,666.82M431.4,666.82L426.9,666.82M81.3,649.04L85.8,649.04M431.4,649.04L426.9,649.04M81.3,636.43L85.8,636.43M431.4,636.43L426.9,636.43M81.3,626.65L85.8,626.65M431.4,626.65L426.9,626.65M81.3,618.66L85.8,618.66M431.4,618.66L426.9,618.66M81.3,611.9L85.8,611.9M431.4,611.9L426.9,611.9M81.3,606.05L85.8,606.05M431.4,606.05L426.9,606.05M81.3,600.89L85.8,600.89M431.4,600.89L426.9,600.89M81.3,596.27L85.8,596.27M431.4,596.27L426.9,596.27M81.3,565.88L85.8,565.88M431.4,565.88L426.9,565.88M81.3,548.11L85.8,548.11M431.4,548.11L426.9,548.11M81.3,535.5L85.8,535.5M431.4,535.5L426.9,535.5M81.3,525.72L85.8,525.72M431.4,525.72L426.9,525.72M81.3,517.73L85.8,517.73M431.4,517.73L426.9,517.73M81.3,510.97L85.8,510.97M431.4,510.97L426.9,510.97M81.3,505.11L85.8,505.11M431.4,505.11L426.9,505.11M81.3,499.95L85.8,499.95M431.4,499.95L426.9,499.95M81.3,495.33L85.8,495.33M431.4,495.33L426.9,495.33M81.3,464.95L85.8,464.95M431.4,464.95L426.9,464.95M81.3,447.18L85.8,447.18M431.4,447.18L426.9,447.18M81.3,434.57L85.8,434.57M431.4,434.57L426.9,434.57M81.3,424.78L85.8,424.78M431.4,424.78L426.9,424.78M81.3,416.79L85.8,416.79M431.4,416.79L426.9,416.79M81.3,410.03L85.8,410.03M431.4,410.03L426.9,410.03M81.3,404.18L85.8,404.18M431.4,404.18L426.9,404.18M81.3,399.02L85.8,399.02M431.4,399.02L426.9,399.02" fill="none" stroke="#a2a2a2" stroke-width="0.5"/>
<path d="M81.5,552.6L425,522.6" stroke="#8c8cf0" stroke-width="0.7" stroke-dasharray="0.9 3.2" fill="none"/>
<path d="M81.5,627.5L425,594.2" stroke="#8c8cf0" stroke-width="0.7" stroke-dasharray="0.9 3.2" fill="none"/>
<path d="M81.3,691.7L291.4,541.5" stroke="#484848" stroke-width="0.6" fill="none"/>
<path d="M81.3,630L221.3,490" stroke="#484848" stroke-width="0.6" fill="none"/>
<path d="M81.3,531.3L221.8,444.1" stroke="#DE1B57" stroke-width="0.55" fill="none" opacity="0.75"/>
<circle cx="81.5" cy="684.8" r="5.0" fill="none" stroke="#6a6a6a" stroke-width="0.62"/>
<circle cx="151.52" cy="655.2" r="5.0" fill="none" stroke="#6a6a6a" stroke-width="0.62"/>
<circle cx="221.54" cy="590.3" r="5.0" fill="none" stroke="#6a6a6a" stroke-width="0.62"/>
<circle cx="291.56" cy="538.5" r="5.0" fill="none" stroke="#6a6a6a" stroke-width="0.62"/>
<rect x="76.4" y="630.9" width="9.8" height="10.2" fill="none" stroke="#aaa" stroke-width="0.55"/>
<rect x="146.42" y="543.3" width="9.8" height="10.2" fill="none" stroke="#aaa" stroke-width="0.55"/>
<rect x="216.44" y="490.4" width="9.8" height="10.2" fill="none" stroke="#aaa" stroke-width="0.55"/>
<circle cx="81.3" cy="531.3" r="5.1" fill="#DE1B57"/>
<circle cx="151.32" cy="496.0" r="5.1" fill="#DE1B57"/>
<circle cx="221.34" cy="444.1" r="5.1" fill="#DE1B57"/>
<path d="M81.4,549L86.3,557.2L76.5,557.2Z" fill="none" stroke="#7a7aee" stroke-width="0.6"/>
<path d="M431.5,516.8L436.4,524.9L426.6,524.9Z" fill="none" stroke="#7a7aee" stroke-width="0.6"/>
<path d="M81.3,622.1L86.2,630.1L76.4,630.1Z" fill="#0000CD" stroke="#0000CD" stroke-width="0.6"/>
<path d="M431.5,588.9L436.4,597.2L426.6,597.2Z" fill="#0000CD" stroke="#0000CD" stroke-width="0.6"/>
<rect x="308.4" y="420.1" width="116.2" height="77.6" fill="#fff" stroke="#aaa" stroke-width="0.5"/>
<path d="M316.7,432.6L348.8,432.6" stroke="#777" stroke-width="0.6"/>
<circle cx="333.4" cy="432.6" r="5.0" fill="#fff" stroke="#777" stroke-width="0.6"/>
<path d="M316.7,446.0L348.8,446.0" stroke="#999" stroke-width="0.6"/>
<rect x="328.5" y="441" width="9.8" height="10" fill="#fff" stroke="#999" stroke-width="0.6"/>
<path d="M316.7,459.3L348.8,459.3" stroke="#DE1B57" stroke-width="0.55" opacity="0.75"/>
<circle cx="333.4" cy="459.3" r="5.1" fill="#DE1B57"/>
<path d="M316.7,472.9L348.8,472.9" stroke="#8c8cf0" stroke-width="0.7" stroke-dasharray="0.9 3.2"/>
<path d="M333.4,468.3L338.3,476.3L328.5,476.3Z" fill="#fff" stroke="#7a7aee" stroke-width="0.6"/>
<path d="M316.7,486.5L348.8,486.5" stroke="#8c8cf0" stroke-width="0.7" stroke-dasharray="0.9 3.2"/>
<path d="M333.4,481.9L338.3,489.9L328.5,489.9Z" fill="#0000CD" stroke="#0000CD" stroke-width="0.6"/>
<text x="353.9" y="436.3" font-size="11.6" fill="#000">tau 30K</text>
<text x="353.9" y="449.7" font-size="11.6" fill="#000">tau 25K</text>
<text x="353.9" y="463" font-size="11.6" fill="#DE1B57">tau 30K Mc</text>
<text x="353.9" y="476.6" font-size="11.6" fill="#0000CD">tau 25K in Lc</text>
<text x="353.9" y="490.2" font-size="11.6" fill="#0000CD">tau 30K in Lc</text>
<text x="129.7" y="432.7" font-size="39.3">(b)</text>
<text x="87.3" y="464.6" font-size="15.5" fill="#E6197F">Magnetic relaxation</text>
<text x="312" y="630.8" font-size="15.4" fill="#0000CD">Lattice relaxation</text>
<text x="73.6" y="398.8" font-size="10.5" text-anchor="end">10</text><text x="73.8" y="394.5" font-size="5.5">5</text>
<text x="73.6" y="499.7" font-size="10.5" text-anchor="end">10</text><text x="73.8" y="495.4" font-size="5.5">4</text>
<text x="77.2" y="600.9" font-size="10.9" text-anchor="end">1000</text>
<text x="77.2" y="701" font-size="10.9" text-anchor="end">100</text>
<text x="81.4" y="712.2" font-size="10.9" text-anchor="middle">0</text>
<text x="151.42" y="712.2" font-size="10.9" text-anchor="middle">0.1</text>
<text x="221.44" y="712.2" font-size="10.9" text-anchor="middle">0.2</text>
<text x="291.46" y="712.2" font-size="10.9" text-anchor="middle">0.3</text>
<text x="361.48" y="712.2" font-size="10.9" text-anchor="middle">0.4</text>
<text x="431.5" y="712.2" font-size="10.9" text-anchor="middle">0.5</text>
<text x="218.1" y="738.5" font-size="21.1">Field (T)</text>
<text transform="translate(42.7,636.6) rotate(-90)" font-size="20.5" xml:space="preserve">Relaxation time  <tspan font-weight="bold">τ</tspan> (s)</text>
</svg></body></html>
